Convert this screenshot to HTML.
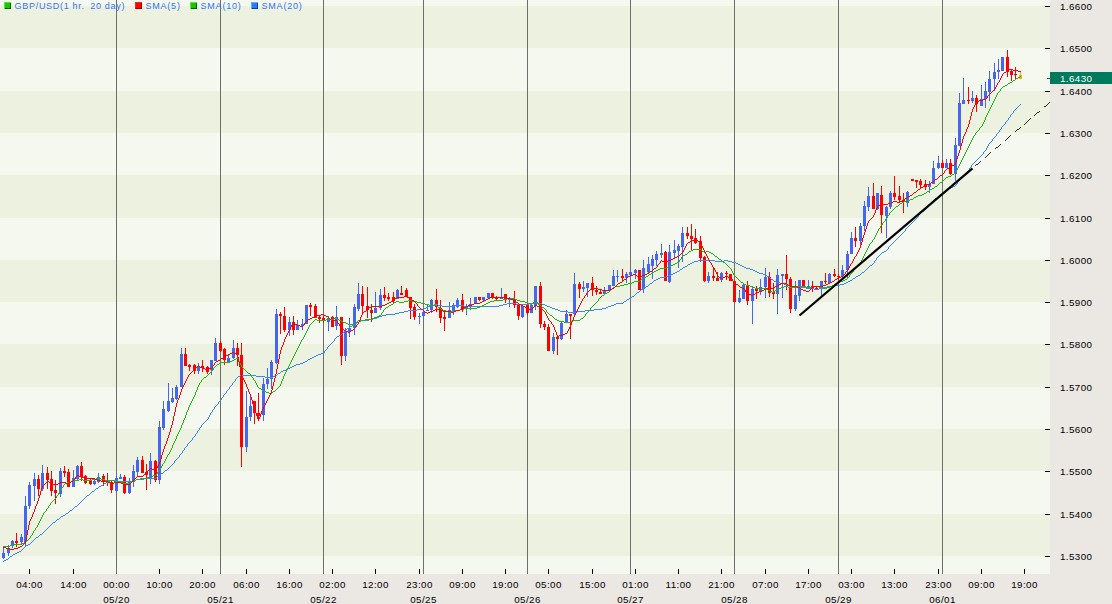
<!DOCTYPE html>
<html><head><meta charset="utf-8"><style>html,body{margin:0;padding:0;background:#ebe8e4;width:1112px;height:604px;overflow:hidden}</style></head>
<body><svg width="1112" height="604" viewBox="0 0 1112 604" style="display:block"><rect x="0" y="0" width="1112" height="604" fill="#ebe8e4"/><g shape-rendering="crispEdges"><rect x="0" y="0" width="1050" height="574" fill="#f5f8ee"/><rect x="0" y="6" width="1050" height="42" fill="#edf2e0"/><rect x="0" y="91" width="1050" height="42" fill="#edf2e0"/><rect x="0" y="175" width="1050" height="43" fill="#edf2e0"/><rect x="0" y="260" width="1050" height="42" fill="#edf2e0"/><rect x="0" y="344" width="1050" height="43" fill="#edf2e0"/><rect x="0" y="429" width="1050" height="42" fill="#edf2e0"/><rect x="0" y="514" width="1050" height="42" fill="#edf2e0"/><rect x="116" y="0" width="1" height="574" fill="#6e6e6e"/><rect x="220" y="0" width="1" height="574" fill="#6e6e6e"/><rect x="323" y="0" width="1" height="574" fill="#6e6e6e"/><rect x="423" y="0" width="1" height="574" fill="#6e6e6e"/><rect x="527" y="0" width="1" height="574" fill="#6e6e6e"/><rect x="630" y="0" width="1" height="574" fill="#6e6e6e"/><rect x="734" y="0" width="1" height="574" fill="#6e6e6e"/><rect x="838" y="0" width="1" height="574" fill="#6e6e6e"/><rect x="942" y="0" width="1" height="574" fill="#6e6e6e"/><rect x="1045" y="6" width="5" height="1" fill="#000"/><rect x="1045" y="48" width="5" height="1" fill="#000"/><rect x="1045" y="91" width="5" height="1" fill="#000"/><rect x="1045" y="133" width="5" height="1" fill="#000"/><rect x="1045" y="175" width="5" height="1" fill="#000"/><rect x="1045" y="218" width="5" height="1" fill="#000"/><rect x="1045" y="260" width="5" height="1" fill="#000"/><rect x="1045" y="302" width="5" height="1" fill="#000"/><rect x="1045" y="344" width="5" height="1" fill="#000"/><rect x="1045" y="387" width="5" height="1" fill="#000"/><rect x="1045" y="429" width="5" height="1" fill="#000"/><rect x="1045" y="471" width="5" height="1" fill="#000"/><rect x="1045" y="514" width="5" height="1" fill="#000"/><rect x="1045" y="556" width="5" height="1" fill="#000"/><rect x="29" y="569" width="1" height="5" fill="#000"/><rect x="73" y="569" width="1" height="5" fill="#000"/><rect x="159" y="569" width="1" height="5" fill="#000"/><rect x="202" y="569" width="1" height="5" fill="#000"/><rect x="246" y="569" width="1" height="5" fill="#000"/><rect x="289" y="569" width="1" height="5" fill="#000"/><rect x="332" y="569" width="1" height="5" fill="#000"/><rect x="375" y="569" width="1" height="5" fill="#000"/><rect x="419" y="569" width="1" height="5" fill="#000"/><rect x="462" y="569" width="1" height="5" fill="#000"/><rect x="505" y="569" width="1" height="5" fill="#000"/><rect x="548" y="569" width="1" height="5" fill="#000"/><rect x="592" y="569" width="1" height="5" fill="#000"/><rect x="635" y="569" width="1" height="5" fill="#000"/><rect x="678" y="569" width="1" height="5" fill="#000"/><rect x="721" y="569" width="1" height="5" fill="#000"/><rect x="765" y="569" width="1" height="5" fill="#000"/><rect x="808" y="569" width="1" height="5" fill="#000"/><rect x="851" y="569" width="1" height="5" fill="#000"/><rect x="894" y="569" width="1" height="5" fill="#000"/><rect x="938" y="569" width="1" height="5" fill="#000"/><rect x="981" y="569" width="1" height="5" fill="#000"/><rect x="1024" y="569" width="1" height="5" fill="#000"/></g><g shape-rendering="crispEdges"><rect x="3" y="547" width="1" height="12" fill="#4466f0"/><rect x="2" y="553" width="3" height="5" fill="#4466f0"/><rect x="8" y="545" width="1" height="11" fill="#4466f0"/><rect x="7" y="548" width="3" height="5" fill="#4466f0"/><rect x="12" y="540" width="1" height="8" fill="#4466f0"/><rect x="11" y="541" width="3" height="4" fill="#4466f0"/><rect x="16" y="533" width="1" height="14" fill="#ff0000"/><rect x="15" y="541" width="3" height="2" fill="#ff0000"/><rect x="21" y="534" width="1" height="10" fill="#4466f0"/><rect x="20" y="537" width="3" height="5" fill="#4466f0"/><rect x="25" y="496" width="1" height="50" fill="#4466f0"/><rect x="24" y="506" width="3" height="36" fill="#4466f0"/><rect x="29" y="482" width="1" height="27" fill="#4466f0"/><rect x="28" y="485" width="3" height="21" fill="#4466f0"/><rect x="34" y="473" width="1" height="28" fill="#4466f0"/><rect x="33" y="479" width="3" height="7" fill="#4466f0"/><rect x="38" y="475" width="1" height="21" fill="#ff0000"/><rect x="37" y="479" width="3" height="10" fill="#ff0000"/><rect x="42" y="465" width="1" height="26" fill="#4466f0"/><rect x="41" y="473" width="3" height="16" fill="#4466f0"/><rect x="47" y="467" width="1" height="22" fill="#ff0000"/><rect x="46" y="473" width="3" height="7" fill="#ff0000"/><rect x="51" y="471" width="1" height="25" fill="#ff0000"/><rect x="50" y="479" width="3" height="12" fill="#ff0000"/><rect x="55" y="480" width="1" height="24" fill="#ff0000"/><rect x="54" y="490" width="3" height="3" fill="#ff0000"/><rect x="60" y="468" width="1" height="29" fill="#4466f0"/><rect x="59" y="471" width="3" height="23" fill="#4466f0"/><rect x="64" y="466" width="1" height="11" fill="#ff0000"/><rect x="63" y="471" width="3" height="2" fill="#ff0000"/><rect x="68" y="469" width="1" height="18" fill="#ff0000"/><rect x="67" y="472" width="3" height="15" fill="#ff0000"/><rect x="73" y="470" width="1" height="17" fill="#4466f0"/><rect x="72" y="478" width="3" height="9" fill="#4466f0"/><rect x="77" y="465" width="1" height="16" fill="#4466f0"/><rect x="76" y="466" width="3" height="13" fill="#4466f0"/><rect x="81" y="462" width="1" height="19" fill="#ff0000"/><rect x="80" y="466" width="3" height="11" fill="#ff0000"/><rect x="85" y="475" width="1" height="9" fill="#ff0000"/><rect x="84" y="476" width="3" height="7" fill="#ff0000"/><rect x="90" y="479" width="1" height="6" fill="#ff0000"/><rect x="89" y="481" width="3" height="3" fill="#ff0000"/><rect x="94" y="478" width="1" height="7" fill="#4466f0"/><rect x="93" y="481" width="3" height="3" fill="#4466f0"/><rect x="98" y="473" width="1" height="10" fill="#4466f0"/><rect x="97" y="477" width="3" height="5" fill="#4466f0"/><rect x="103" y="474" width="1" height="12" fill="#ff0000"/><rect x="102" y="476" width="3" height="6" fill="#ff0000"/><rect x="107" y="473" width="1" height="13" fill="#ff0000"/><rect x="106" y="481" width="3" height="2" fill="#ff0000"/><rect x="111" y="481" width="1" height="12" fill="#ff0000"/><rect x="110" y="482" width="3" height="8" fill="#ff0000"/><rect x="116" y="475" width="1" height="16" fill="#4466f0"/><rect x="115" y="478" width="3" height="13" fill="#4466f0"/><rect x="120" y="474" width="1" height="5" fill="#4466f0"/><rect x="119" y="477" width="3" height="2" fill="#4466f0"/><rect x="124" y="475" width="1" height="19" fill="#ff0000"/><rect x="123" y="477" width="3" height="16" fill="#ff0000"/><rect x="129" y="478" width="1" height="16" fill="#4466f0"/><rect x="128" y="481" width="3" height="12" fill="#4466f0"/><rect x="133" y="465" width="1" height="22" fill="#4466f0"/><rect x="132" y="471" width="3" height="11" fill="#4466f0"/><rect x="137" y="457" width="1" height="19" fill="#4466f0"/><rect x="136" y="460" width="3" height="12" fill="#4466f0"/><rect x="142" y="456" width="1" height="17" fill="#ff0000"/><rect x="141" y="460" width="3" height="13" fill="#ff0000"/><rect x="146" y="464" width="1" height="26" fill="#ff0000"/><rect x="145" y="472" width="3" height="3" fill="#ff0000"/><rect x="150" y="453" width="1" height="31" fill="#4466f0"/><rect x="149" y="461" width="3" height="17" fill="#4466f0"/><rect x="155" y="460" width="1" height="22" fill="#ff0000"/><rect x="154" y="461" width="3" height="19" fill="#ff0000"/><rect x="159" y="421" width="1" height="63" fill="#4466f0"/><rect x="158" y="427" width="3" height="53" fill="#4466f0"/><rect x="163" y="401" width="1" height="29" fill="#4466f0"/><rect x="162" y="409" width="3" height="19" fill="#4466f0"/><rect x="168" y="383" width="1" height="29" fill="#4466f0"/><rect x="167" y="401" width="3" height="10" fill="#4466f0"/><rect x="172" y="388" width="1" height="15" fill="#4466f0"/><rect x="171" y="398" width="3" height="4" fill="#4466f0"/><rect x="176" y="385" width="1" height="15" fill="#4466f0"/><rect x="175" y="387" width="3" height="12" fill="#4466f0"/><rect x="181" y="348" width="1" height="39" fill="#4466f0"/><rect x="180" y="354" width="3" height="33" fill="#4466f0"/><rect x="185" y="348" width="1" height="18" fill="#ff0000"/><rect x="184" y="354" width="3" height="12" fill="#ff0000"/><rect x="189" y="364" width="1" height="7" fill="#ff0000"/><rect x="188" y="365" width="3" height="2" fill="#ff0000"/><rect x="194" y="364" width="1" height="10" fill="#ff0000"/><rect x="193" y="365" width="3" height="6" fill="#ff0000"/><rect x="198" y="363" width="1" height="11" fill="#4466f0"/><rect x="197" y="367" width="3" height="4" fill="#4466f0"/><rect x="202" y="360" width="1" height="12" fill="#ff0000"/><rect x="201" y="366" width="3" height="2" fill="#ff0000"/><rect x="207" y="366" width="1" height="8" fill="#ff0000"/><rect x="206" y="367" width="3" height="5" fill="#ff0000"/><rect x="211" y="360" width="1" height="15" fill="#4466f0"/><rect x="210" y="360" width="3" height="10" fill="#4466f0"/><rect x="215" y="338" width="1" height="23" fill="#4466f0"/><rect x="214" y="343" width="3" height="18" fill="#4466f0"/><rect x="220" y="341" width="1" height="11" fill="#ff0000"/><rect x="219" y="343" width="3" height="8" fill="#ff0000"/><rect x="224" y="348" width="1" height="17" fill="#ff0000"/><rect x="223" y="349" width="3" height="11" fill="#ff0000"/><rect x="228" y="355" width="1" height="8" fill="#4466f0"/><rect x="227" y="358" width="3" height="4" fill="#4466f0"/><rect x="233" y="340" width="1" height="19" fill="#4466f0"/><rect x="232" y="348" width="3" height="10" fill="#4466f0"/><rect x="237" y="343" width="1" height="23" fill="#ff0000"/><rect x="236" y="348" width="3" height="7" fill="#ff0000"/><rect x="241" y="343" width="1" height="124" fill="#ff0000"/><rect x="240" y="355" width="3" height="92" fill="#ff0000"/><rect x="246" y="391" width="1" height="61" fill="#4466f0"/><rect x="245" y="417" width="3" height="30" fill="#4466f0"/><rect x="250" y="396" width="1" height="25" fill="#4466f0"/><rect x="249" y="406" width="3" height="11" fill="#4466f0"/><rect x="254" y="401" width="1" height="23" fill="#ff0000"/><rect x="253" y="401" width="3" height="12" fill="#ff0000"/><rect x="258" y="393" width="1" height="26" fill="#ff0000"/><rect x="257" y="413" width="3" height="3" fill="#ff0000"/><rect x="263" y="378" width="1" height="43" fill="#4466f0"/><rect x="262" y="384" width="3" height="31" fill="#4466f0"/><rect x="267" y="368" width="1" height="21" fill="#4466f0"/><rect x="266" y="379" width="3" height="5" fill="#4466f0"/><rect x="271" y="360" width="1" height="29" fill="#4466f0"/><rect x="270" y="362" width="3" height="17" fill="#4466f0"/><rect x="276" y="309" width="1" height="55" fill="#4466f0"/><rect x="275" y="314" width="3" height="49" fill="#4466f0"/><rect x="280" y="312" width="1" height="22" fill="#ff0000"/><rect x="279" y="314" width="3" height="2" fill="#ff0000"/><rect x="284" y="307" width="1" height="25" fill="#ff0000"/><rect x="283" y="316" width="3" height="14" fill="#ff0000"/><rect x="289" y="317" width="1" height="19" fill="#4466f0"/><rect x="288" y="322" width="3" height="8" fill="#4466f0"/><rect x="293" y="316" width="1" height="19" fill="#ff0000"/><rect x="292" y="322" width="3" height="8" fill="#ff0000"/><rect x="297" y="320" width="1" height="10" fill="#4466f0"/><rect x="296" y="325" width="3" height="5" fill="#4466f0"/><rect x="302" y="319" width="1" height="11" fill="#4466f0"/><rect x="301" y="324" width="3" height="2" fill="#4466f0"/><rect x="306" y="305" width="1" height="19" fill="#4466f0"/><rect x="305" y="305" width="3" height="19" fill="#4466f0"/><rect x="310" y="303" width="1" height="13" fill="#ff0000"/><rect x="309" y="305" width="3" height="2" fill="#ff0000"/><rect x="315" y="304" width="1" height="14" fill="#ff0000"/><rect x="314" y="306" width="3" height="12" fill="#ff0000"/><rect x="319" y="316" width="1" height="7" fill="#ff0000"/><rect x="318" y="317" width="3" height="2" fill="#ff0000"/><rect x="323" y="316" width="1" height="7" fill="#ff0000"/><rect x="322" y="318" width="3" height="3" fill="#ff0000"/><rect x="328" y="316" width="1" height="15" fill="#4466f0"/><rect x="327" y="318" width="3" height="4" fill="#4466f0"/><rect x="332" y="316" width="1" height="11" fill="#ff0000"/><rect x="331" y="317" width="3" height="10" fill="#ff0000"/><rect x="336" y="306" width="1" height="24" fill="#4466f0"/><rect x="335" y="317" width="3" height="9" fill="#4466f0"/><rect x="341" y="317" width="1" height="48" fill="#ff0000"/><rect x="340" y="317" width="3" height="39" fill="#ff0000"/><rect x="345" y="328" width="1" height="33" fill="#4466f0"/><rect x="344" y="331" width="3" height="25" fill="#4466f0"/><rect x="349" y="318" width="1" height="19" fill="#4466f0"/><rect x="348" y="328" width="3" height="4" fill="#4466f0"/><rect x="354" y="304" width="1" height="31" fill="#4466f0"/><rect x="353" y="307" width="3" height="21" fill="#4466f0"/><rect x="358" y="283" width="1" height="28" fill="#4466f0"/><rect x="357" y="294" width="3" height="15" fill="#4466f0"/><rect x="362" y="286" width="1" height="27" fill="#ff0000"/><rect x="361" y="294" width="3" height="12" fill="#ff0000"/><rect x="367" y="287" width="1" height="31" fill="#ff0000"/><rect x="366" y="306" width="3" height="4" fill="#ff0000"/><rect x="371" y="304" width="1" height="18" fill="#ff0000"/><rect x="370" y="310" width="3" height="3" fill="#ff0000"/><rect x="375" y="292" width="1" height="21" fill="#4466f0"/><rect x="374" y="308" width="3" height="5" fill="#4466f0"/><rect x="380" y="289" width="1" height="21" fill="#4466f0"/><rect x="379" y="295" width="3" height="13" fill="#4466f0"/><rect x="384" y="287" width="1" height="14" fill="#ff0000"/><rect x="383" y="295" width="3" height="3" fill="#ff0000"/><rect x="388" y="293" width="1" height="8" fill="#ff0000"/><rect x="387" y="297" width="3" height="2" fill="#ff0000"/><rect x="393" y="292" width="1" height="12" fill="#ff0000"/><rect x="392" y="297" width="3" height="4" fill="#ff0000"/><rect x="397" y="289" width="1" height="10" fill="#4466f0"/><rect x="396" y="290" width="3" height="9" fill="#4466f0"/><rect x="401" y="286" width="1" height="9" fill="#ff0000"/><rect x="400" y="293" width="3" height="2" fill="#ff0000"/><rect x="406" y="288" width="1" height="9" fill="#ff0000"/><rect x="405" y="290" width="3" height="7" fill="#ff0000"/><rect x="410" y="297" width="1" height="22" fill="#ff0000"/><rect x="409" y="297" width="3" height="11" fill="#ff0000"/><rect x="414" y="304" width="1" height="16" fill="#ff0000"/><rect x="413" y="307" width="3" height="10" fill="#ff0000"/><rect x="419" y="313" width="1" height="11" fill="#4466f0"/><rect x="418" y="316" width="3" height="1" fill="#4466f0"/><rect x="423" y="311" width="1" height="8" fill="#4466f0"/><rect x="422" y="312" width="3" height="4" fill="#4466f0"/><rect x="427" y="305" width="1" height="6" fill="#4466f0"/><rect x="426" y="310" width="3" height="1" fill="#4466f0"/><rect x="431" y="299" width="1" height="14" fill="#4466f0"/><rect x="430" y="300" width="3" height="10" fill="#4466f0"/><rect x="436" y="289" width="1" height="23" fill="#ff0000"/><rect x="435" y="300" width="3" height="7" fill="#ff0000"/><rect x="440" y="300" width="1" height="23" fill="#ff0000"/><rect x="439" y="308" width="3" height="10" fill="#ff0000"/><rect x="444" y="312" width="1" height="19" fill="#ff0000"/><rect x="443" y="317" width="3" height="2" fill="#ff0000"/><rect x="449" y="302" width="1" height="16" fill="#4466f0"/><rect x="448" y="310" width="3" height="8" fill="#4466f0"/><rect x="453" y="303" width="1" height="12" fill="#4466f0"/><rect x="452" y="305" width="3" height="6" fill="#4466f0"/><rect x="457" y="298" width="1" height="10" fill="#4466f0"/><rect x="456" y="300" width="3" height="7" fill="#4466f0"/><rect x="462" y="294" width="1" height="18" fill="#ff0000"/><rect x="461" y="300" width="3" height="9" fill="#ff0000"/><rect x="466" y="304" width="1" height="11" fill="#4466f0"/><rect x="465" y="307" width="3" height="1" fill="#4466f0"/><rect x="470" y="298" width="1" height="12" fill="#4466f0"/><rect x="469" y="304" width="3" height="2" fill="#4466f0"/><rect x="475" y="297" width="1" height="7" fill="#4466f0"/><rect x="474" y="297" width="3" height="6" fill="#4466f0"/><rect x="479" y="297" width="1" height="4" fill="#ff0000"/><rect x="478" y="297" width="3" height="3" fill="#ff0000"/><rect x="483" y="297" width="1" height="4" fill="#4466f0"/><rect x="482" y="297" width="3" height="3" fill="#4466f0"/><rect x="488" y="293" width="1" height="5" fill="#4466f0"/><rect x="487" y="293" width="3" height="5" fill="#4466f0"/><rect x="492" y="293" width="1" height="6" fill="#ff0000"/><rect x="491" y="293" width="3" height="5" fill="#ff0000"/><rect x="496" y="296" width="1" height="5" fill="#ff0000"/><rect x="495" y="298" width="3" height="1" fill="#ff0000"/><rect x="501" y="288" width="1" height="11" fill="#4466f0"/><rect x="500" y="297" width="3" height="2" fill="#4466f0"/><rect x="505" y="294" width="1" height="9" fill="#ff0000"/><rect x="504" y="294" width="3" height="5" fill="#ff0000"/><rect x="509" y="297" width="1" height="10" fill="#4466f0"/><rect x="508" y="299" width="3" height="1" fill="#4466f0"/><rect x="514" y="291" width="1" height="17" fill="#ff0000"/><rect x="513" y="299" width="3" height="6" fill="#ff0000"/><rect x="518" y="305" width="1" height="15" fill="#ff0000"/><rect x="517" y="305" width="3" height="11" fill="#ff0000"/><rect x="522" y="306" width="1" height="12" fill="#4466f0"/><rect x="521" y="306" width="3" height="11" fill="#4466f0"/><rect x="527" y="305" width="1" height="10" fill="#ff0000"/><rect x="526" y="305" width="3" height="8" fill="#ff0000"/><rect x="531" y="304" width="1" height="9" fill="#4466f0"/><rect x="530" y="305" width="3" height="8" fill="#4466f0"/><rect x="535" y="286" width="1" height="24" fill="#4466f0"/><rect x="534" y="286" width="3" height="20" fill="#4466f0"/><rect x="540" y="282" width="1" height="46" fill="#ff0000"/><rect x="539" y="286" width="3" height="38" fill="#ff0000"/><rect x="544" y="321" width="1" height="9" fill="#ff0000"/><rect x="543" y="324" width="3" height="3" fill="#ff0000"/><rect x="548" y="324" width="1" height="27" fill="#ff0000"/><rect x="547" y="327" width="3" height="24" fill="#ff0000"/><rect x="553" y="333" width="1" height="21" fill="#4466f0"/><rect x="552" y="337" width="3" height="14" fill="#4466f0"/><rect x="557" y="337" width="1" height="18" fill="#ff0000"/><rect x="556" y="337" width="3" height="2" fill="#ff0000"/><rect x="561" y="322" width="1" height="18" fill="#4466f0"/><rect x="560" y="323" width="3" height="16" fill="#4466f0"/><rect x="566" y="310" width="1" height="13" fill="#4466f0"/><rect x="565" y="314" width="3" height="9" fill="#4466f0"/><rect x="570" y="314" width="1" height="25" fill="#ff0000"/><rect x="569" y="314" width="3" height="2" fill="#ff0000"/><rect x="574" y="273" width="1" height="43" fill="#4466f0"/><rect x="573" y="284" width="3" height="30" fill="#4466f0"/><rect x="579" y="282" width="1" height="16" fill="#ff0000"/><rect x="578" y="284" width="3" height="5" fill="#ff0000"/><rect x="583" y="281" width="1" height="11" fill="#4466f0"/><rect x="582" y="287" width="3" height="2" fill="#4466f0"/><rect x="587" y="283" width="1" height="14" fill="#4466f0"/><rect x="586" y="283" width="3" height="5" fill="#4466f0"/><rect x="592" y="277" width="1" height="19" fill="#ff0000"/><rect x="591" y="283" width="3" height="7" fill="#ff0000"/><rect x="596" y="286" width="1" height="9" fill="#ff0000"/><rect x="595" y="290" width="3" height="2" fill="#ff0000"/><rect x="600" y="290" width="1" height="4" fill="#ff0000"/><rect x="599" y="292" width="3" height="2" fill="#ff0000"/><rect x="604" y="287" width="1" height="7" fill="#4466f0"/><rect x="603" y="291" width="3" height="3" fill="#4466f0"/><rect x="609" y="285" width="1" height="6" fill="#4466f0"/><rect x="608" y="285" width="3" height="5" fill="#4466f0"/><rect x="613" y="270" width="1" height="16" fill="#4466f0"/><rect x="612" y="276" width="3" height="10" fill="#4466f0"/><rect x="617" y="270" width="1" height="12" fill="#4466f0"/><rect x="616" y="276" width="3" height="1" fill="#4466f0"/><rect x="622" y="269" width="1" height="12" fill="#ff0000"/><rect x="621" y="276" width="3" height="2" fill="#ff0000"/><rect x="626" y="272" width="1" height="11" fill="#4466f0"/><rect x="625" y="274" width="3" height="4" fill="#4466f0"/><rect x="630" y="269" width="1" height="9" fill="#4466f0"/><rect x="629" y="272" width="3" height="3" fill="#4466f0"/><rect x="635" y="269" width="1" height="10" fill="#4466f0"/><rect x="634" y="270" width="3" height="3" fill="#4466f0"/><rect x="639" y="270" width="1" height="20" fill="#ff0000"/><rect x="638" y="270" width="3" height="20" fill="#ff0000"/><rect x="643" y="260" width="1" height="33" fill="#4466f0"/><rect x="642" y="268" width="3" height="21" fill="#4466f0"/><rect x="648" y="257" width="1" height="16" fill="#4466f0"/><rect x="647" y="264" width="3" height="8" fill="#4466f0"/><rect x="652" y="255" width="1" height="24" fill="#4466f0"/><rect x="651" y="259" width="3" height="7" fill="#4466f0"/><rect x="656" y="251" width="1" height="15" fill="#4466f0"/><rect x="655" y="254" width="3" height="6" fill="#4466f0"/><rect x="661" y="244" width="1" height="14" fill="#4466f0"/><rect x="660" y="253" width="3" height="2" fill="#4466f0"/><rect x="665" y="251" width="1" height="30" fill="#ff0000"/><rect x="664" y="252" width="3" height="29" fill="#ff0000"/><rect x="669" y="245" width="1" height="38" fill="#4466f0"/><rect x="668" y="252" width="3" height="30" fill="#4466f0"/><rect x="674" y="240" width="1" height="18" fill="#4466f0"/><rect x="673" y="250" width="3" height="3" fill="#4466f0"/><rect x="678" y="244" width="1" height="24" fill="#4466f0"/><rect x="677" y="246" width="3" height="5" fill="#4466f0"/><rect x="682" y="227" width="1" height="35" fill="#4466f0"/><rect x="681" y="233" width="3" height="14" fill="#4466f0"/><rect x="687" y="227" width="1" height="12" fill="#ff0000"/><rect x="686" y="233" width="3" height="3" fill="#ff0000"/><rect x="691" y="224" width="1" height="26" fill="#ff0000"/><rect x="690" y="236" width="3" height="3" fill="#ff0000"/><rect x="695" y="229" width="1" height="15" fill="#ff0000"/><rect x="694" y="238" width="3" height="5" fill="#ff0000"/><rect x="700" y="236" width="1" height="26" fill="#ff0000"/><rect x="699" y="241" width="3" height="17" fill="#ff0000"/><rect x="704" y="256" width="1" height="26" fill="#ff0000"/><rect x="703" y="257" width="3" height="24" fill="#ff0000"/><rect x="708" y="272" width="1" height="11" fill="#4466f0"/><rect x="707" y="276" width="3" height="5" fill="#4466f0"/><rect x="713" y="268" width="1" height="13" fill="#ff0000"/><rect x="712" y="276" width="3" height="2" fill="#ff0000"/><rect x="717" y="272" width="1" height="9" fill="#ff0000"/><rect x="716" y="278" width="3" height="3" fill="#ff0000"/><rect x="721" y="272" width="1" height="10" fill="#4466f0"/><rect x="720" y="273" width="3" height="7" fill="#4466f0"/><rect x="726" y="271" width="1" height="9" fill="#ff0000"/><rect x="725" y="273" width="3" height="1" fill="#ff0000"/><rect x="730" y="274" width="1" height="7" fill="#ff0000"/><rect x="729" y="274" width="3" height="7" fill="#ff0000"/><rect x="734" y="281" width="1" height="21" fill="#ff0000"/><rect x="733" y="281" width="3" height="21" fill="#ff0000"/><rect x="739" y="290" width="1" height="13" fill="#4466f0"/><rect x="738" y="298" width="3" height="4" fill="#4466f0"/><rect x="743" y="284" width="1" height="15" fill="#4466f0"/><rect x="742" y="285" width="3" height="14" fill="#4466f0"/><rect x="747" y="281" width="1" height="24" fill="#ff0000"/><rect x="746" y="286" width="3" height="15" fill="#ff0000"/><rect x="752" y="287" width="1" height="37" fill="#4466f0"/><rect x="751" y="289" width="3" height="12" fill="#4466f0"/><rect x="756" y="286" width="1" height="13" fill="#ff0000"/><rect x="755" y="288" width="3" height="3" fill="#ff0000"/><rect x="760" y="279" width="1" height="16" fill="#4466f0"/><rect x="759" y="287" width="3" height="4" fill="#4466f0"/><rect x="765" y="268" width="1" height="30" fill="#4466f0"/><rect x="764" y="277" width="3" height="10" fill="#4466f0"/><rect x="769" y="272" width="1" height="25" fill="#ff0000"/><rect x="768" y="277" width="3" height="16" fill="#ff0000"/><rect x="773" y="283" width="1" height="16" fill="#ff0000"/><rect x="772" y="292" width="3" height="2" fill="#ff0000"/><rect x="777" y="269" width="1" height="45" fill="#4466f0"/><rect x="776" y="275" width="3" height="19" fill="#4466f0"/><rect x="782" y="274" width="1" height="24" fill="#4466f0"/><rect x="781" y="274" width="3" height="2" fill="#4466f0"/><rect x="786" y="255" width="1" height="35" fill="#ff0000"/><rect x="785" y="274" width="3" height="5" fill="#ff0000"/><rect x="790" y="277" width="1" height="36" fill="#ff0000"/><rect x="789" y="279" width="3" height="30" fill="#ff0000"/><rect x="795" y="281" width="1" height="30" fill="#4466f0"/><rect x="794" y="295" width="3" height="14" fill="#4466f0"/><rect x="799" y="280" width="1" height="21" fill="#4466f0"/><rect x="798" y="280" width="3" height="16" fill="#4466f0"/><rect x="803" y="280" width="1" height="6" fill="#ff0000"/><rect x="802" y="280" width="3" height="6" fill="#ff0000"/><rect x="808" y="280" width="1" height="9" fill="#4466f0"/><rect x="807" y="286" width="3" height="3" fill="#4466f0"/><rect x="812" y="281" width="1" height="11" fill="#ff0000"/><rect x="811" y="286" width="3" height="2" fill="#ff0000"/><rect x="816" y="287" width="1" height="3" fill="#ff0000"/><rect x="815" y="288" width="3" height="1" fill="#ff0000"/><rect x="821" y="281" width="1" height="15" fill="#4466f0"/><rect x="820" y="281" width="3" height="8" fill="#4466f0"/><rect x="825" y="273" width="1" height="11" fill="#ff0000"/><rect x="824" y="281" width="3" height="1" fill="#ff0000"/><rect x="829" y="273" width="1" height="10" fill="#4466f0"/><rect x="828" y="274" width="3" height="9" fill="#4466f0"/><rect x="834" y="269" width="1" height="8" fill="#ff0000"/><rect x="833" y="274" width="3" height="2" fill="#ff0000"/><rect x="838" y="274" width="1" height="6" fill="#ff0000"/><rect x="837" y="276" width="3" height="1" fill="#ff0000"/><rect x="842" y="265" width="1" height="14" fill="#4466f0"/><rect x="841" y="270" width="3" height="6" fill="#4466f0"/><rect x="847" y="251" width="1" height="27" fill="#4466f0"/><rect x="846" y="254" width="3" height="16" fill="#4466f0"/><rect x="851" y="232" width="1" height="22" fill="#4466f0"/><rect x="850" y="238" width="3" height="16" fill="#4466f0"/><rect x="855" y="227" width="1" height="20" fill="#ff0000"/><rect x="854" y="238" width="3" height="3" fill="#ff0000"/><rect x="860" y="223" width="1" height="22" fill="#4466f0"/><rect x="859" y="226" width="3" height="15" fill="#4466f0"/><rect x="864" y="201" width="1" height="30" fill="#4466f0"/><rect x="863" y="206" width="3" height="20" fill="#4466f0"/><rect x="868" y="187" width="1" height="24" fill="#4466f0"/><rect x="867" y="196" width="3" height="11" fill="#4466f0"/><rect x="873" y="183" width="1" height="26" fill="#ff0000"/><rect x="872" y="196" width="3" height="13" fill="#ff0000"/><rect x="877" y="193" width="1" height="17" fill="#4466f0"/><rect x="876" y="193" width="3" height="16" fill="#4466f0"/><rect x="881" y="186" width="1" height="47" fill="#ff0000"/><rect x="880" y="195" width="3" height="20" fill="#ff0000"/><rect x="886" y="206" width="1" height="32" fill="#4466f0"/><rect x="885" y="207" width="3" height="9" fill="#4466f0"/><rect x="890" y="191" width="1" height="18" fill="#4466f0"/><rect x="889" y="193" width="3" height="14" fill="#4466f0"/><rect x="894" y="176" width="1" height="24" fill="#ff0000"/><rect x="893" y="193" width="3" height="4" fill="#ff0000"/><rect x="899" y="186" width="1" height="16" fill="#ff0000"/><rect x="898" y="196" width="3" height="4" fill="#ff0000"/><rect x="903" y="193" width="1" height="20" fill="#ff0000"/><rect x="902" y="200" width="3" height="2" fill="#ff0000"/><rect x="907" y="191" width="1" height="16" fill="#4466f0"/><rect x="906" y="192" width="3" height="11" fill="#4466f0"/><rect x="912" y="179" width="1" height="2" fill="#ff0000"/><rect x="911" y="179" width="3" height="2" fill="#ff0000"/><rect x="916" y="180" width="1" height="8" fill="#ff0000"/><rect x="915" y="180" width="3" height="2" fill="#ff0000"/><rect x="920" y="179" width="1" height="10" fill="#ff0000"/><rect x="919" y="181" width="3" height="4" fill="#ff0000"/><rect x="925" y="180" width="1" height="10" fill="#ff0000"/><rect x="924" y="184" width="3" height="3" fill="#ff0000"/><rect x="929" y="181" width="1" height="12" fill="#4466f0"/><rect x="928" y="184" width="3" height="3" fill="#4466f0"/><rect x="933" y="161" width="1" height="23" fill="#4466f0"/><rect x="932" y="168" width="3" height="16" fill="#4466f0"/><rect x="938" y="156" width="1" height="13" fill="#4466f0"/><rect x="937" y="163" width="3" height="5" fill="#4466f0"/><rect x="942" y="160" width="1" height="8" fill="#ff0000"/><rect x="941" y="163" width="3" height="5" fill="#ff0000"/><rect x="946" y="159" width="1" height="9" fill="#4466f0"/><rect x="945" y="163" width="3" height="5" fill="#4466f0"/><rect x="950" y="159" width="1" height="16" fill="#ff0000"/><rect x="949" y="163" width="3" height="11" fill="#ff0000"/><rect x="955" y="138" width="1" height="43" fill="#4466f0"/><rect x="954" y="145" width="3" height="29" fill="#4466f0"/><rect x="959" y="93" width="1" height="53" fill="#4466f0"/><rect x="958" y="103" width="3" height="43" fill="#4466f0"/><rect x="963" y="78" width="1" height="26" fill="#4466f0"/><rect x="962" y="100" width="3" height="4" fill="#4466f0"/><rect x="968" y="87" width="1" height="17" fill="#ff0000"/><rect x="967" y="100" width="3" height="1" fill="#ff0000"/><rect x="972" y="91" width="1" height="12" fill="#4466f0"/><rect x="971" y="98" width="3" height="3" fill="#4466f0"/><rect x="976" y="95" width="1" height="17" fill="#ff0000"/><rect x="975" y="98" width="3" height="6" fill="#ff0000"/><rect x="981" y="85" width="1" height="21" fill="#4466f0"/><rect x="980" y="99" width="3" height="7" fill="#4466f0"/><rect x="985" y="82" width="1" height="26" fill="#4466f0"/><rect x="984" y="91" width="3" height="8" fill="#4466f0"/><rect x="989" y="71" width="1" height="30" fill="#4466f0"/><rect x="988" y="79" width="3" height="13" fill="#4466f0"/><rect x="994" y="63" width="1" height="28" fill="#4466f0"/><rect x="993" y="72" width="3" height="7" fill="#4466f0"/><rect x="998" y="59" width="1" height="20" fill="#4466f0"/><rect x="997" y="70" width="3" height="2" fill="#4466f0"/><rect x="1002" y="57" width="1" height="14" fill="#4466f0"/><rect x="1001" y="57" width="3" height="14" fill="#4466f0"/><rect x="1007" y="50" width="1" height="27" fill="#ff0000"/><rect x="1006" y="57" width="3" height="15" fill="#ff0000"/><rect x="1011" y="70" width="1" height="11" fill="#ff0000"/><rect x="1010" y="71" width="3" height="4" fill="#ff0000"/><rect x="1015" y="67" width="1" height="12" fill="#ff0000"/><rect x="1014" y="74" width="3" height="1" fill="#ff0000"/><rect x="1020" y="72" width="1" height="7" fill="#f5a623"/><rect x="1019" y="75" width="3" height="4" fill="#f5a623"/></g><path fill="#3a86ff" shape-rendering="crispEdges" d="M673 273h2v1h-2zM759 273h4v1h-4zM861 273h1v1h-1zM975 161h1v1h-1zM909 225h1v1h-1zM68 512h1v1h-1zM428 306h2v1h-2zM442 306h13v1h-13zM464 306h35v1h-35zM547 306h3v1h-3zM608 306h3v1h-3zM634 295h1v1h-1zM347 328h2v1h-2zM240 375h16v1h-16zM275 375h2v1h-2zM49 526h1v1h-1zM886 250h1v1h-1zM668 275h3v1h-3zM766 275h1v1h-1zM858 275h2v1h-2zM956 184h1v1h-1zM434 304h4v1h-4zM503 304h4v1h-4zM516 304h13v1h-13zM542 304h3v1h-3zM614 304h2v1h-2zM408 310h9v1h-9zM558 310h2v1h-2zM585 310h9v1h-9zM328 346h1v1h-1zM933 200h1v1h-1zM671 274h2v1h-2zM763 274h3v1h-3zM860 274h1v1h-1zM988 145h1v1h-1zM646 286h2v1h-2zM789 286h4v1h-4zM827 286h5v1h-5zM238 376h2v1h-2zM256 376h9v1h-9zM273 376h2v1h-2zM84 498h1v1h-1zM140 478h16v1h-16zM386 314h9v1h-9zM677 271h2v1h-2zM755 271h2v1h-2zM864 271h1v1h-1zM108 481h2v1h-2zM114 481h20v1h-20zM649 284h1v1h-1zM784 284h3v1h-3zM840 284h4v1h-4zM237 377h1v1h-1zM265 377h8v1h-8zM687 265h1v1h-1zM740 265h2v1h-2zM870 265h2v1h-2zM99 486h2v1h-2zM312 357h2v1h-2zM894 241h1v1h-1zM25 546h1v1h-1zM87 495h2v1h-2zM228 389h1v1h-1zM110 480h4v1h-4zM134 480h2v1h-2zM692 262h2v1h-2zM732 262h4v1h-4zM874 262h1v1h-1zM22 549h1v1h-1zM644 287h2v1h-2zM793 287h13v1h-13zM823 287h4v1h-4zM964 174h1v1h-1zM13 554h2v1h-2zM164 471h1v1h-1zM679 270h1v1h-1zM753 270h2v1h-2zM865 270h1v1h-1zM921 212h1v1h-1zM318 354h3v1h-3zM996 135h1v1h-1zM999 131h1v1h-1zM283 370h3v1h-3zM680 269h2v1h-2zM750 269h3v1h-3zM866 269h1v1h-1zM404 311h4v1h-4zM560 311h8v1h-8zM577 311h8v1h-8zM666 276h2v1h-2zM767 276h2v1h-2zM856 276h2v1h-2zM648 285h1v1h-1zM787 285h2v1h-2zM832 285h8v1h-8zM168 468h1v1h-1zM626 300h1v1h-1zM959 180h1v1h-1zM184 449h1v1h-1zM72 509h1v1h-1zM373 318h4v1h-4zM916 218h1v1h-1zM698 260h17v1h-17zM724 260h4v1h-4zM875 260h1v1h-1zM533 302h5v1h-5zM623 302h1v1h-1zM947 189h2v1h-2zM1006 121h1v1h-1zM641 289h2v1h-2zM814 289h5v1h-5zM324 352h1v1h-1zM940 194h2v1h-2zM991 141h1v1h-1zM882 252h2v1h-2zM75 506h2v1h-2zM660 277h6v1h-6zM769 277h1v1h-1zM855 277h1v1h-1zM399 312h5v1h-5zM568 312h9v1h-9zM972 164h1v1h-1zM944 191h2v1h-2zM1019 105h1v1h-1zM176 459h1v1h-1zM179 455h1v1h-1zM358 320h11v1h-11zM231 385h1v1h-1zM507 303h9v1h-9zM529 303h4v1h-4zM538 303h4v1h-4zM616 303h7v1h-7zM300 363h3v1h-3zM40 534h2v1h-2zM901 234h1v1h-1zM192 439h1v1h-1zM308 359h2v1h-2zM643 288h1v1h-1zM806 288h8v1h-8zM819 288h4v1h-4zM6 559h2v1h-2zM332 342h1v1h-1zM204 422h1v1h-1zM44 531h1v1h-1zM33 540h1v1h-1zM216 405h1v1h-1zM925 209h1v1h-1zM683 267h2v1h-2zM744 267h2v1h-2zM868 267h1v1h-1zM928 205h1v1h-1zM10 556h2v1h-2zM675 272h2v1h-2zM757 272h2v1h-2zM862 272h2v1h-2zM314 356h2v1h-2zM187 445h1v1h-1zM36 537h2v1h-2zM694 261h4v1h-4zM715 261h9v1h-9zM728 261h4v1h-4zM874 261h1v1h-1zM658 278h2v1h-2zM770 278h1v1h-1zM853 278h2v1h-2zM369 319h4v1h-4zM327 348h1v1h-1zM199 428h1v1h-1zM650 283h2v1h-2zM780 283h4v1h-4zM844 283h2v1h-2zM430 305h4v1h-4zM438 305h4v1h-4zM455 305h9v1h-9zM499 305h4v1h-4zM545 305h2v1h-2zM611 305h3v1h-3zM889 246h1v1h-1zM982 154h1v1h-1zM277 374h1v1h-1zM395 313h4v1h-4zM994 137h1v1h-1zM627 299h2v1h-2zM979 157h1v1h-1zM184 448h1v1h-1zM913 221h1v1h-1zM281 371h2v1h-2zM377 317h2v1h-2zM53 522h2v1h-2zM417 309h7v1h-7zM555 309h3v1h-3zM594 309h8v1h-8zM195 435h1v1h-1zM632 296h2v1h-2zM931 202h1v1h-1zM335 338h1v1h-1zM210 414h1v1h-1zM234 381h1v1h-1zM219 401h1v1h-1zM222 397h1v1h-1zM339 335h2v1h-2zM424 308h2v1h-2zM552 308h3v1h-3zM602 308h4v1h-4zM1014 110h1v1h-1zM310 358h2v1h-2zM688 264h2v1h-2zM738 264h2v1h-2zM872 264h1v1h-1zM690 263h2v1h-2zM736 263h2v1h-2zM873 263h1v1h-1zM919 214h1v1h-1zM997 133h1v1h-1zM896 239h1v1h-1zM90 493h1v1h-1zM187 444h1v1h-1zM307 360h1v1h-1zM15 553h2v1h-2zM922 211h2v1h-2zM654 280h2v1h-2zM773 280h1v1h-1zM850 280h2v1h-2zM327 347h1v1h-1zM101 485h2v1h-2zM966 172h1v1h-1zM94 490h1v1h-1zM624 301h2v1h-2zM83 499h1v1h-1zM136 479h4v1h-4zM106 482h2v1h-2zM636 293h1v1h-1zM880 254h1v1h-1zM354 324h1v1h-1zM346 329h1v1h-1zM1005 123h1v1h-1zM640 290h1v1h-1zM884 251h2v1h-2zM195 434h1v1h-1zM685 266h2v1h-2zM742 266h2v1h-2zM869 266h1v1h-1zM198 430h1v1h-1zM70 510h2v1h-2zM426 307h2v1h-2zM550 307h2v1h-2zM606 307h2v1h-2zM55 521h1v1h-1zM350 326h2v1h-2zM911 223h1v1h-1zM210 413h1v1h-1zM296 364h4v1h-4zM888 248h1v1h-1zM974 162h1v1h-1zM908 226h1v1h-1zM382 315h4v1h-4zM330 344h1v1h-1zM935 198h2v1h-2zM48 527h1v1h-1zM1002 126h1v1h-1zM652 282h1v1h-1zM776 282h4v1h-4zM846 282h2v1h-2zM903 232h1v1h-1zM303 362h2v1h-2zM12 555h1v1h-1zM206 420h1v1h-1zM682 268h1v1h-1zM746 268h4v1h-4zM867 268h1v1h-1zM4 560h2v1h-2zM175 460h1v1h-1zM35 538h1v1h-1zM98 487h1v1h-1zM218 403h1v1h-1zM24 547h1v1h-1zM656 279h2v1h-2zM771 279h2v1h-2zM852 279h1v1h-1zM28 544h2v1h-2zM977 159h1v1h-1zM278 373h2v1h-2zM1013 112h1v1h-1zM170 466h1v1h-1zM321 353h3v1h-3zM159 475h1v1h-1zM891 244h1v1h-1zM961 178h1v1h-1zM74 507h1v1h-1zM918 216h1v1h-1zM958 181h1v1h-1zM163 472h1v1h-1zM183 450h1v1h-1zM1005 122h1v1h-1zM1008 118h1v1h-1zM78 504h1v1h-1zM939 195h1v1h-1zM66 513h2v1h-2zM59 518h1v1h-1zM1003 125h1v1h-1zM352 325h2v1h-2zM341 334h1v1h-1zM969 168h1v1h-1zM937 197h1v1h-1zM39 535h1v1h-1zM334 340h1v1h-1zM194 436h1v1h-1zM927 207h1v1h-1zM930 203h1v1h-1zM1016 108h1v1h-1zM43 532h1v1h-1zM230 386h1v1h-1zM32 541h1v1h-1zM201 426h1v1h-1zM186 446h1v1h-1zM189 442h1v1h-1zM213 409h1v1h-1zM167 469h1v1h-1zM30 543h1v1h-1zM637 292h2v1h-2zM85 497h1v1h-1zM961 177h1v1h-1zM981 155h1v1h-1zM915 219h1v1h-1zM918 215h1v1h-1zM993 138h1v1h-1zM356 322h1v1h-1zM906 228h1v1h-1zM89 494h1v1h-1zM337 336h2v1h-2zM46 529h1v1h-1zM209 416h1v1h-1zM294 365h2v1h-2zM379 316h3v1h-3zM197 432h1v1h-1zM221 399h1v1h-1zM988 144h1v1h-1zM233 382h1v1h-1zM953 186h2v1h-2zM236 378h1v1h-1zM879 255h1v1h-1zM957 183h1v1h-1zM1004 124h1v1h-1zM949 188h2v1h-2zM305 361h2v1h-2zM898 237h1v1h-1zM92 491h2v1h-2zM984 151h1v1h-1zM987 147h1v1h-1zM1011 114h1v1h-1zM174 462h1v1h-1zM177 458h1v1h-1zM201 425h1v1h-1zM329 345h1v1h-1zM996 134h1v1h-1zM104 483h2v1h-2zM26 545h2v1h-2zM968 170h1v1h-1zM999 130h1v1h-1zM157 476h2v1h-2zM19 551h2v1h-2zM172 464h1v1h-1zM324 351h1v1h-1zM161 473h2v1h-2zM290 367h2v1h-2zM65 514h1v1h-1zM57 519h2v1h-2zM165 470h2v1h-2zM209 415h1v1h-1zM80 502h1v1h-1zM286 369h2v1h-2zM197 431h1v1h-1zM221 398h1v1h-1zM69 511h1v1h-1zM224 394h1v1h-1zM61 516h2v1h-2zM50 525h1v1h-1zM653 281h1v1h-1zM774 281h2v1h-2zM848 281h2v1h-2zM192 438h1v1h-1zM73 508h1v1h-1zM96 488h2v1h-2zM905 230h1v1h-1zM971 166h1v1h-1zM208 418h1v1h-1zM987 146h1v1h-1zM3 561h1v1h-1zM232 384h1v1h-1zM212 411h1v1h-1zM893 242h1v1h-1zM227 390h1v1h-1zM169 467h1v1h-1zM960 179h1v1h-1zM963 175h1v1h-1zM983 153h1v1h-1zM917 217h1v1h-1zM1007 120h1v1h-1zM995 136h1v1h-1zM910 224h1v1h-1zM877 257h1v1h-1zM77 505h1v1h-1zM343 332h1v1h-1zM955 185h1v1h-1zM180 454h1v1h-1zM932 201h1v1h-1zM629 298h2v1h-2zM235 380h1v1h-1zM971 165h1v1h-1zM905 229h1v1h-1zM1018 106h1v1h-1zM45 530h1v1h-1zM208 417h1v1h-1zM34 539h1v1h-1zM220 400h1v1h-1zM316 355h2v1h-2zM900 235h1v1h-1zM191 440h1v1h-1zM920 213h1v1h-1zM1010 116h1v1h-1zM200 427h1v1h-1zM331 343h1v1h-1zM203 423h1v1h-1zM212 410h1v1h-1zM215 406h1v1h-1zM21 550h1v1h-1zM924 210h1v1h-1zM292 366h2v1h-2zM983 152h1v1h-1zM888 247h1v1h-1zM951 187h2v1h-2zM288 368h2v1h-2zM943 192h1v1h-1zM63 515h2v1h-2zM990 142h1v1h-1zM156 477h1v1h-1zM912 222h1v1h-1zM223 396h1v1h-1zM881 253h1v1h-1zM235 379h1v1h-1zM52 523h1v1h-1zM160 474h1v1h-1zM56 520h1v1h-1zM218 402h1v1h-1zM876 259h1v1h-1zM986 149h1v1h-1zM179 456h1v1h-1zM998 132h1v1h-1zM1001 128h1v1h-1zM91 492h1v1h-1zM188 443h1v1h-1zM17 552h2v1h-2zM1010 115h1v1h-1zM1013 111h1v1h-1zM9 557h1v1h-1zM103 484h1v1h-1zM967 171h1v1h-1zM95 489h1v1h-1zM904 231h1v1h-1zM326 349h1v1h-1zM895 240h1v1h-1zM82 500h1v1h-1zM199 429h1v1h-1zM211 412h1v1h-1zM892 243h1v1h-1zM223 395h1v1h-1zM345 330h1v1h-1zM60 517h1v1h-1zM182 452h1v1h-1zM334 339h1v1h-1zM927 206h1v1h-1zM970 167h1v1h-1zM907 227h1v1h-1zM876 258h1v1h-1zM1020 104h1v1h-1zM986 148h1v1h-1zM207 419h1v1h-1zM47 528h1v1h-1zM1001 127h1v1h-1zM226 392h1v1h-1zM229 388h1v1h-1zM280 372h1v1h-1zM171 465h1v1h-1zM214 408h1v1h-1zM23 548h1v1h-1zM631 297h1v1h-1zM962 176h1v1h-1zM635 294h1v1h-1zM899 236h1v1h-1zM1009 117h1v1h-1zM79 503h1v1h-1zM349 327h1v1h-1zM887 249h1v1h-1zM639 291h1v1h-1zM934 199h1v1h-1zM342 333h1v1h-1zM992 140h1v1h-1zM957 182h1v1h-1zM182 451h1v1h-1zM938 196h1v1h-1zM973 163h1v1h-1zM357 321h1v1h-1zM942 193h1v1h-1zM1017 107h1v1h-1zM174 461h1v1h-1zM976 160h1v1h-1zM989 143h1v1h-1zM965 173h1v1h-1zM902 233h1v1h-1zM333 341h1v1h-1zM205 421h1v1h-1zM190 441h1v1h-1zM1012 113h1v1h-1zM217 404h1v1h-1zM926 208h1v1h-1zM202 424h1v1h-1zM226 391h1v1h-1zM229 387h1v1h-1zM31 542h1v1h-1zM214 407h1v1h-1zM86 496h1v1h-1zM985 150h1v1h-1zM185 447h1v1h-1zM890 245h1v1h-1zM914 220h1v1h-1zM980 156h1v1h-1zM992 139h1v1h-1zM946 190h1v1h-1zM336 337h1v1h-1zM51 524h1v1h-1zM193 437h1v1h-1zM978 158h1v1h-1zM929 204h1v1h-1zM1008 119h1v1h-1zM232 383h1v1h-1zM38 536h1v1h-1zM878 256h1v1h-1zM178 457h1v1h-1zM1000 129h1v1h-1zM42 533h1v1h-1zM969 169h1v1h-1zM8 558h1v1h-1zM897 238h1v1h-1zM173 463h1v1h-1zM325 350h1v1h-1zM81 501h1v1h-1zM355 323h1v1h-1zM225 393h1v1h-1zM196 433h1v1h-1zM344 331h1v1h-1zM1015 109h1v1h-1zM181 453h1v1h-1z"/><path fill="#1fb80f" shape-rendering="crispEdges" d="M681 258h1v1h-1zM718 258h1v1h-1zM862 258h1v1h-1zM311 323h1v1h-1zM346 323h2v1h-2zM355 323h2v1h-2zM67 482h4v1h-4zM121 482h2v1h-2zM130 482h2v1h-2zM660 268h6v1h-6zM730 268h1v1h-1zM855 268h1v1h-1zM315 319h2v1h-2zM326 319h8v1h-8zM337 319h2v1h-2zM365 319h7v1h-7zM555 319h2v1h-2zM580 319h1v1h-1zM666 267h2v1h-2zM729 267h1v1h-1zM856 267h1v1h-1zM79 479h4v1h-4zM92 479h4v1h-4zM101 479h4v1h-4zM136 479h8v1h-8zM624 284h4v1h-4zM744 284h2v1h-2zM834 284h1v1h-1zM613 287h2v1h-2zM753 287h2v1h-2zM781 287h3v1h-3zM788 287h9v1h-9zM806 287h8v1h-8zM819 287h4v1h-4zM827 287h3v1h-3zM174 441h1v1h-1zM890 212h1v1h-1zM910 199h3v1h-3zM213 369h1v1h-1zM244 369h1v1h-1zM287 369h1v1h-1zM389 305h2v1h-2zM429 305h8v1h-8zM482 305h2v1h-2zM540 305h1v1h-1zM593 305h1v1h-1zM306 331h1v1h-1zM668 266h3v1h-3zM728 266h1v1h-1zM857 266h1v1h-1zM396 301h3v1h-3zM404 301h4v1h-4zM412 301h5v1h-5zM490 301h4v1h-4zM520 301h5v1h-5zM597 301h1v1h-1zM965 153h1v1h-1zM620 285h4v1h-4zM746 285h4v1h-4zM832 285h2v1h-2zM211 371h1v1h-1zM246 371h1v1h-1zM286 371h1v1h-1zM75 480h4v1h-4zM83 480h9v1h-9zM105 480h13v1h-13zM134 480h2v1h-2zM408 300h4v1h-4zM494 300h9v1h-9zM517 300h3v1h-3zM598 300h1v1h-1zM190 403h1v1h-1zM383 310h1v1h-1zM443 310h3v1h-3zM455 310h5v1h-5zM546 310h1v1h-1zM589 310h1v1h-1zM628 283h4v1h-4zM743 283h1v1h-1zM835 283h2v1h-2zM386 307h2v1h-2zM438 307h2v1h-2zM477 307h3v1h-3zM542 307h2v1h-2zM591 307h1v1h-1zM394 302h2v1h-2zM399 302h5v1h-5zM417 302h4v1h-4zM488 302h2v1h-2zM525 302h3v1h-3zM534 302h2v1h-2zM596 302h1v1h-1zM634 281h6v1h-6zM740 281h1v1h-1zM840 281h3v1h-3zM157 473h1v1h-1zM673 264h2v1h-2zM726 264h1v1h-1zM858 264h1v1h-1zM160 469h1v1h-1zM313 321h1v1h-1zM341 321h2v1h-2zM359 321h2v1h-2zM559 321h5v1h-5zM571 321h2v1h-2zM691 250h2v1h-2zM701 250h1v1h-1zM866 250h1v1h-1zM220 362h10v1h-10zM239 362h1v1h-1zM290 362h1v1h-1zM612 288h1v1h-1zM755 288h11v1h-11zM779 288h2v1h-2zM823 288h4v1h-4zM948 176h3v1h-3zM683 255h2v1h-2zM714 255h1v1h-1zM864 255h1v1h-1zM71 481h4v1h-4zM118 481h3v1h-3zM132 481h2v1h-2zM611 289h1v1h-1zM766 289h2v1h-2zM777 289h2v1h-2zM384 309h1v1h-1zM441 309h2v1h-2zM460 309h4v1h-4zM545 309h1v1h-1zM590 309h1v1h-1zM615 286h5v1h-5zM750 286h3v1h-3zM784 286h4v1h-4zM797 286h9v1h-9zM814 286h5v1h-5zM830 286h2v1h-2zM173 444h1v1h-1zM153 475h3v1h-3zM96 478h5v1h-5zM144 478h3v1h-3zM201 381h1v1h-1zM255 381h1v1h-1zM281 381h1v1h-1zM219 363h1v1h-1zM240 363h1v1h-1zM290 363h1v1h-1zM391 304h2v1h-2zM425 304h4v1h-4zM484 304h2v1h-2zM530 304h2v1h-2zM538 304h2v1h-2zM594 304h1v1h-1zM886 218h1v1h-1zM213 368h1v1h-1zM243 368h1v1h-1zM287 368h1v1h-1zM875 236h1v1h-1zM679 261h1v1h-1zM722 261h1v1h-1zM861 261h1v1h-1zM956 170h1v1h-1zM189 406h1v1h-1zM383 311h1v1h-1zM446 311h2v1h-2zM451 311h4v1h-4zM546 311h1v1h-1zM588 311h1v1h-1zM644 277h2v1h-2zM736 277h1v1h-1zM848 277h1v1h-1zM232 360h2v1h-2zM238 360h1v1h-1zM291 360h1v1h-1zM50 504h1v1h-1zM382 312h1v1h-1zM448 312h3v1h-3zM547 312h1v1h-1zM587 312h1v1h-1zM977 131h1v1h-1zM385 308h1v1h-1zM440 308h1v1h-1zM464 308h13v1h-13zM544 308h1v1h-1zM590 308h1v1h-1zM980 127h1v1h-1zM374 317h3v1h-3zM553 317h1v1h-1zM583 317h1v1h-1zM62 487h1v1h-1zM609 291h1v1h-1zM770 291h2v1h-2zM774 291h1v1h-1zM653 272h1v1h-1zM732 272h1v1h-1zM852 272h1v1h-1zM314 320h1v1h-1zM317 320h9v1h-9zM339 320h2v1h-2zM361 320h4v1h-4zM557 320h2v1h-2zM573 320h7v1h-7zM693 249h8v1h-8zM867 249h1v1h-1zM649 274h2v1h-2zM733 274h1v1h-1zM850 274h1v1h-1zM393 303h1v1h-1zM421 303h4v1h-4zM486 303h2v1h-2zM528 303h2v1h-2zM532 303h2v1h-2zM536 303h2v1h-2zM595 303h1v1h-1zM172 447h1v1h-1zM641 279h2v1h-2zM738 279h1v1h-1zM845 279h2v1h-2zM181 425h1v1h-1zM651 273h2v1h-2zM733 273h1v1h-1zM851 273h1v1h-1zM632 282h2v1h-2zM741 282h2v1h-2zM837 282h3v1h-3zM960 163h1v1h-1zM312 322h1v1h-1zM343 322h3v1h-3zM357 322h2v1h-2zM564 322h7v1h-7zM975 133h1v1h-1zM984 120h1v1h-1zM197 387h1v1h-1zM258 387h1v1h-1zM278 387h1v1h-1zM681 257h1v1h-1zM717 257h1v1h-1zM863 257h1v1h-1zM58 494h1v1h-1zM297 349h1v1h-1zM196 391h1v1h-1zM264 391h2v1h-2zM273 391h2v1h-2zM688 252h1v1h-1zM704 252h2v1h-2zM709 252h2v1h-2zM865 252h1v1h-1zM168 454h1v1h-1zM157 472h1v1h-1zM41 517h1v1h-1zM160 468h1v1h-1zM197 388h1v1h-1zM259 388h2v1h-2zM277 388h1v1h-1zM971 140h1v1h-1zM195 393h1v1h-1zM269 393h3v1h-3zM208 374h1v1h-1zM250 374h1v1h-1zM284 374h1v1h-1zM53 500h1v1h-1zM33 531h1v1h-1zM56 496h1v1h-1zM230 361h2v1h-2zM239 361h1v1h-1zM291 361h1v1h-1zM305 334h1v1h-1zM689 251h2v1h-2zM702 251h2v1h-2zM706 251h3v1h-3zM866 251h1v1h-1zM65 483h2v1h-2zM123 483h7v1h-7zM916 196h2v1h-2zM995 97h1v1h-1zM173 443h1v1h-1zM675 263h2v1h-2zM725 263h1v1h-1zM859 263h1v1h-1zM185 417h1v1h-1zM503 299h4v1h-4zM515 299h2v1h-2zM598 299h1v1h-1zM201 380h1v1h-1zM254 380h1v1h-1zM282 380h1v1h-1zM964 155h1v1h-1zM14 544h8v1h-8zM164 461h1v1h-1zM215 366h1v1h-1zM241 366h1v1h-1zM288 366h1v1h-1zM189 405h1v1h-1zM679 260h1v1h-1zM721 260h1v1h-1zM861 260h1v1h-1zM334 318h3v1h-3zM372 318h2v1h-2zM554 318h1v1h-1zM581 318h2v1h-2zM310 324h1v1h-1zM348 324h7v1h-7zM988 112h1v1h-1zM204 377h2v1h-2zM252 377h1v1h-1zM283 377h1v1h-1zM507 298h8v1h-8zM599 298h1v1h-1zM234 359h2v1h-2zM238 359h1v1h-1zM292 359h1v1h-1zM29 538h1v1h-1zM301 341h1v1h-1zM654 271h2v1h-2zM732 271h1v1h-1zM853 271h1v1h-1zM894 208h1v1h-1zM172 446h1v1h-1zM198 385h1v1h-1zM257 385h1v1h-1zM280 385h1v1h-1zM195 392h1v1h-1zM266 392h3v1h-3zM272 392h1v1h-1zM960 162h1v1h-1zM882 224h1v1h-1zM193 398h1v1h-1zM927 191h2v1h-2zM906 200h4v1h-4zM874 238h1v1h-1zM898 205h1v1h-1zM1018 77h2v1h-2zM877 231h1v1h-1zM197 389h1v1h-1zM261 389h2v1h-2zM276 389h1v1h-1zM1010 82h2v1h-2zM381 314h1v1h-1zM549 314h1v1h-1zM585 314h1v1h-1zM889 214h1v1h-1zM869 245h1v1h-1zM297 348h1v1h-1zM61 489h1v1h-1zM180 428h1v1h-1zM3 546h7v1h-7zM209 373h1v1h-1zM248 373h2v1h-2zM285 373h1v1h-1zM677 262h2v1h-2zM723 262h2v1h-2zM860 262h1v1h-1zM913 198h1v1h-1zM196 390h1v1h-1zM263 390h1v1h-1zM275 390h1v1h-1zM682 256h1v1h-1zM715 256h2v1h-2zM863 256h1v1h-1zM959 165h1v1h-1zM44 512h1v1h-1zM671 265h2v1h-2zM727 265h1v1h-1zM858 265h1v1h-1zM149 476h4v1h-4zM983 122h1v1h-1zM939 183h1v1h-1zM296 351h1v1h-1zM179 431h1v1h-1zM656 270h2v1h-2zM731 270h1v1h-1zM853 270h1v1h-1zM188 409h1v1h-1zM951 175h1v1h-1zM943 180h1v1h-1zM388 306h1v1h-1zM437 306h1v1h-1zM480 306h2v1h-2zM541 306h1v1h-1zM592 306h1v1h-1zM605 293h2v1h-2zM955 172h1v1h-1zM156 474h1v1h-1zM309 326h1v1h-1zM40 519h1v1h-1zM994 100h1v1h-1zM946 177h2v1h-2zM932 188h2v1h-2zM935 186h2v1h-2zM979 129h1v1h-1zM924 193h2v1h-2zM885 220h1v1h-1zM1015 79h1v1h-1zM199 384h1v1h-1zM256 384h1v1h-1zM280 384h1v1h-1zM1003 86h2v1h-2zM1007 84h1v1h-1zM236 358h2v1h-2zM292 358h1v1h-1zM648 275h1v1h-1zM734 275h1v1h-1zM849 275h1v1h-1zM377 316h2v1h-2zM552 316h1v1h-1zM584 316h1v1h-1zM974 135h1v1h-1zM990 107h1v1h-1zM889 213h1v1h-1zM869 244h1v1h-1zM300 343h1v1h-1zM212 370h1v1h-1zM245 370h1v1h-1zM286 370h1v1h-1zM904 201h2v1h-2zM610 290h1v1h-1zM768 290h2v1h-2zM775 290h2v1h-2zM646 276h2v1h-2zM735 276h1v1h-1zM849 276h1v1h-1zM198 386h1v1h-1zM257 386h1v1h-1zM279 386h1v1h-1zM918 195h4v1h-4zM970 142h1v1h-1zM876 233h1v1h-1zM32 533h1v1h-1zM304 336h1v1h-1zM35 529h1v1h-1zM179 430h1v1h-1zM202 379h1v1h-1zM253 379h1v1h-1zM282 379h1v1h-1zM296 350h1v1h-1zM188 408h1v1h-1zM658 269h2v1h-2zM731 269h1v1h-1zM854 269h1v1h-1zM200 382h1v1h-1zM255 382h1v1h-1zM281 382h1v1h-1zM203 378h1v1h-1zM253 378h1v1h-1zM283 378h1v1h-1zM680 259h1v1h-1zM719 259h2v1h-2zM862 259h1v1h-1zM982 125h1v1h-1zM994 99h1v1h-1zM607 292h2v1h-2zM772 292h2v1h-2zM52 501h1v1h-1zM171 449h1v1h-1zM64 484h1v1h-1zM872 240h1v1h-1zM163 463h1v1h-1zM685 254h2v1h-2zM713 254h1v1h-1zM864 254h1v1h-1zM295 353h1v1h-1zM187 411h1v1h-1zM59 491h1v1h-1zM896 206h2v1h-2zM1008 83h2v1h-2zM998 92h1v1h-1zM24 542h2v1h-2zM1001 88h1v1h-1zM379 315h2v1h-2zM550 315h2v1h-2zM585 315h1v1h-1zM900 203h2v1h-2zM1013 80h2v1h-2zM167 456h1v1h-1zM868 247h1v1h-1zM914 197h2v1h-2zM159 470h1v1h-1zM147 477h2v1h-2zM958 167h1v1h-1zM43 514h1v1h-1zM10 545h4v1h-4zM207 375h1v1h-1zM251 375h1v1h-1zM284 375h1v1h-1zM35 528h1v1h-1zM600 297h1v1h-1zM989 109h1v1h-1zM888 215h1v1h-1zM178 433h1v1h-1zM604 294h1v1h-1zM945 178h1v1h-1zM969 145h1v1h-1zM962 158h1v1h-1zM934 187h1v1h-1zM926 192h1v1h-1zM194 395h1v1h-1zM39 521h1v1h-1zM993 102h1v1h-1zM171 448h1v1h-1zM938 184h1v1h-1zM1005 85h2v1h-2zM31 535h1v1h-1zM183 422h1v1h-1zM303 338h1v1h-1zM930 189h2v1h-2zM187 410h1v1h-1zM942 181h1v1h-1zM962 159h1v1h-1zM186 414h1v1h-1zM965 152h1v1h-1zM640 280h1v1h-1zM739 280h1v1h-1zM843 280h2v1h-2zM26 541h1v1h-1zM879 228h1v1h-1zM167 455h1v1h-1zM868 246h1v1h-1zM687 253h1v1h-1zM711 253h2v1h-2zM865 253h1v1h-1zM170 451h1v1h-1zM299 345h1v1h-1zM871 242h1v1h-1zM199 383h1v1h-1zM256 383h1v1h-1zM281 383h1v1h-1zM973 137h1v1h-1zM958 166h1v1h-1zM43 513h1v1h-1zM997 94h1v1h-1zM875 235h1v1h-1zM166 458h1v1h-1zM50 503h1v1h-1zM922 194h2v1h-2zM178 432h1v1h-1zM969 144h1v1h-1zM957 169h1v1h-1zM993 101h1v1h-1zM206 376h1v1h-1zM251 376h1v1h-1zM283 376h1v1h-1zM162 465h1v1h-1zM22 543h2v1h-2zM46 510h1v1h-1zM643 278h1v1h-1zM737 278h1v1h-1zM847 278h1v1h-1zM294 355h1v1h-1zM177 435h1v1h-1zM891 211h1v1h-1zM186 413h1v1h-1zM58 493h1v1h-1zM38 524h1v1h-1zM902 202h2v1h-2zM968 147h1v1h-1zM1000 90h1v1h-1zM217 364h2v1h-2zM240 364h1v1h-1zM289 364h1v1h-1zM992 104h1v1h-1zM30 537h1v1h-1zM182 424h1v1h-1zM214 367h1v1h-1zM242 367h1v1h-1zM288 367h1v1h-1zM305 333h1v1h-1zM973 136h1v1h-1zM185 416h1v1h-1zM997 93h1v1h-1zM964 154h1v1h-1zM1020 76h1v1h-1zM878 230h1v1h-1zM988 111h1v1h-1zM887 217h1v1h-1zM867 248h1v1h-1zM42 516h1v1h-1zM301 340h1v1h-1zM54 499h1v1h-1zM216 365h1v1h-1zM241 365h1v1h-1zM289 365h1v1h-1zM172 445h1v1h-1zM981 126h1v1h-1zM882 223h1v1h-1zM193 397h1v1h-1zM963 157h1v1h-1zM874 237h1v1h-1zM987 114h1v1h-1zM46 509h1v1h-1zM165 460h1v1h-1zM49 505h1v1h-1zM381 313h1v1h-1zM548 313h1v1h-1zM586 313h1v1h-1zM976 132h1v1h-1zM177 434h1v1h-1zM602 295h2v1h-2zM186 412h1v1h-1zM38 523h1v1h-1zM61 488h1v1h-1zM968 146h1v1h-1zM1000 89h1v1h-1zM210 372h1v1h-1zM247 372h1v1h-1zM285 372h1v1h-1zM992 103h1v1h-1zM1012 81h1v1h-1zM959 164h1v1h-1zM169 453h1v1h-1zM181 427h1v1h-1zM161 467h1v1h-1zM972 139h1v1h-1zM293 357h1v1h-1zM34 530h1v1h-1zM57 495h1v1h-1zM185 415h1v1h-1zM37 526h1v1h-1zM996 96h1v1h-1zM878 229h1v1h-1zM309 325h1v1h-1zM979 128h1v1h-1zM184 419h1v1h-1zM885 219h1v1h-1zM940 182h2v1h-2zM963 156h1v1h-1zM952 174h2v1h-2zM987 113h1v1h-1zM176 438h1v1h-1zM944 179h1v1h-1zM308 328h1v1h-1zM28 539h1v1h-1zM300 342h1v1h-1zM192 400h1v1h-1zM967 149h1v1h-1zM893 209h1v1h-1zM991 106h1v1h-1zM870 243h1v1h-1zM181 426h1v1h-1zM45 511h1v1h-1zM304 335h1v1h-1zM972 138h1v1h-1zM975 134h1v1h-1zM37 525h1v1h-1zM984 121h1v1h-1zM188 407h1v1h-1zM996 95h1v1h-1zM999 91h1v1h-1zM982 124h1v1h-1zM184 418h1v1h-1zM41 518h1v1h-1zM971 141h1v1h-1zM33 532h1v1h-1zM56 497h1v1h-1zM295 352h1v1h-1zM995 98h1v1h-1zM176 437h1v1h-1zM954 173h1v1h-1zM308 327h1v1h-1zM164 462h1v1h-1zM48 507h1v1h-1zM978 130h1v1h-1zM192 399h1v1h-1zM60 490h1v1h-1zM881 225h1v1h-1zM967 148h1v1h-1zM873 239h1v1h-1zM991 105h1v1h-1zM983 123h1v1h-1zM175 440h1v1h-1zM307 330h1v1h-1zM877 232h1v1h-1zM191 402h1v1h-1zM966 151h1v1h-1zM180 429h1v1h-1zM1016 78h2v1h-2zM183 421h1v1h-1zM303 337h1v1h-1zM884 221h1v1h-1zM601 296h1v1h-1zM986 116h1v1h-1zM176 436h1v1h-1zM63 486h1v1h-1zM48 506h1v1h-1zM1002 87h1v1h-1zM170 450h1v1h-1zM40 520h1v1h-1zM299 344h1v1h-1zM895 207h1v1h-1zM985 119h1v1h-1zM175 439h1v1h-1zM899 204h1v1h-1zM307 329h1v1h-1zM166 457h1v1h-1zM191 401h1v1h-1zM36 527h1v1h-1zM298 347h1v1h-1zM966 150h1v1h-1zM990 108h1v1h-1zM158 471h1v1h-1zM892 210h1v1h-1zM957 168h1v1h-1zM51 502h1v1h-1zM183 420h1v1h-1zM195 394h1v1h-1zM970 143h1v1h-1zM162 464h1v1h-1zM876 234h1v1h-1zM32 534h1v1h-1zM986 115h1v1h-1zM989 110h1v1h-1zM294 354h1v1h-1zM63 485h1v1h-1zM27 540h1v1h-1zM30 536h1v1h-1zM182 423h1v1h-1zM880 227h1v1h-1zM937 185h1v1h-1zM961 161h1v1h-1zM872 241h1v1h-1zM985 118h1v1h-1zM59 492h1v1h-1zM174 442h1v1h-1zM47 508h1v1h-1zM306 332h1v1h-1zM887 216h1v1h-1zM298 346h1v1h-1zM190 404h1v1h-1zM42 515h1v1h-1zM302 339h1v1h-1zM929 190h1v1h-1zM165 459h1v1h-1zM55 498h1v1h-1zM956 171h1v1h-1zM880 226h1v1h-1zM169 452h1v1h-1zM194 396h1v1h-1zM883 222h1v1h-1zM39 522h1v1h-1zM961 160h1v1h-1zM161 466h1v1h-1zM985 117h1v1h-1zM293 356h1v1h-1z"/><path fill="#ff0000" shape-rendering="crispEdges" d="M22 545h1v1h-1zM317 315h4v1h-4zM324 315h2v1h-2zM361 315h1v1h-1zM546 315h1v1h-1zM574 315h1v1h-1zM44 484h1v1h-1zM53 484h2v1h-2zM56 484h2v1h-2zM123 484h7v1h-7zM368 308h1v1h-1zM420 308h1v1h-1zM463 308h1v1h-1zM527 308h2v1h-2zM532 308h1v1h-1zM541 308h1v1h-1zM578 308h1v1h-1zM679 255h1v1h-1zM706 255h1v1h-1zM856 255h1v1h-1zM385 304h2v1h-2zM417 304h1v1h-1zM472 304h2v1h-2zM519 304h2v1h-2zM580 304h1v1h-1zM195 368h1v1h-1zM202 368h3v1h-3zM209 368h3v1h-3zM240 368h1v1h-1zM277 368h1v1h-1zM3 547h3v1h-3zM18 547h2v1h-2zM618 283h2v1h-2zM735 283h1v1h-1zM781 283h6v1h-6zM828 283h2v1h-2zM957 157h1v1h-1zM214 363h1v1h-1zM239 363h1v1h-1zM278 363h1v1h-1zM397 297h7v1h-7zM407 297h2v1h-2zM490 297h17v1h-17zM584 297h1v1h-1zM47 481h2v1h-2zM71 481h2v1h-2zM101 481h7v1h-7zM132 481h1v1h-1zM650 271h2v1h-2zM715 271h1v1h-1zM846 271h1v1h-1zM863 235h1v1h-1zM162 453h1v1h-1zM371 306h11v1h-11zM418 306h1v1h-1zM466 306h2v1h-2zM523 306h2v1h-2zM534 306h1v1h-1zM537 306h2v1h-2zM579 306h1v1h-1zM393 300h1v1h-1zM412 300h2v1h-2zM484 300h2v1h-2zM513 300h2v1h-2zM582 300h1v1h-1zM404 296h3v1h-3zM584 296h1v1h-1zM585 295h1v1h-1zM751 295h2v1h-2zM615 286h1v1h-1zM739 286h1v1h-1zM775 286h2v1h-2zM790 286h7v1h-7zM814 286h9v1h-9zM170 429h1v1h-1zM216 361h2v1h-2zM238 361h1v1h-1zM278 361h1v1h-1zM169 433h1v1h-1zM627 277h1v1h-1zM639 277h1v1h-1zM719 277h2v1h-2zM723 277h2v1h-2zM728 277h3v1h-3zM839 277h2v1h-2zM177 402h1v1h-1zM252 402h1v1h-1zM266 402h1v1h-1zM180 394h1v1h-1zM250 394h1v1h-1zM270 394h1v1h-1zM653 269h1v1h-1zM714 269h1v1h-1zM848 269h1v1h-1zM34 510h1v1h-1zM282 346h1v1h-1zM25 541h1v1h-1zM633 274h3v1h-3zM645 274h2v1h-2zM717 274h1v1h-1zM844 274h1v1h-1zM76 476h1v1h-1zM79 476h3v1h-3zM137 476h6v1h-6zM176 404h1v1h-1zM253 404h1v1h-1zM265 404h1v1h-1zM185 382h1v1h-1zM245 382h1v1h-1zM273 382h1v1h-1zM42 486h1v1h-1zM969 122h1v1h-1zM363 312h1v1h-1zM425 312h2v1h-2zM428 312h2v1h-2zM451 312h3v1h-3zM545 312h1v1h-1zM576 312h1v1h-1zM394 299h1v1h-1zM411 299h1v1h-1zM486 299h2v1h-2zM511 299h2v1h-2zM582 299h1v1h-1zM382 305h3v1h-3zM417 305h1v1h-1zM468 305h4v1h-4zM521 305h2v1h-2zM535 305h2v1h-2zM579 305h1v1h-1zM290 327h1v1h-1zM340 327h1v1h-1zM355 327h1v1h-1zM554 327h1v1h-1zM569 327h1v1h-1zM287 334h1v1h-1zM556 334h1v1h-1zM563 334h2v1h-2zM173 416h1v1h-1zM257 416h1v1h-1zM260 416h1v1h-1zM976 102h1v1h-1zM391 301h2v1h-2zM414 301h1v1h-1zM482 301h2v1h-2zM515 301h1v1h-1zM581 301h1v1h-1zM956 160h1v1h-1zM878 205h2v1h-2zM395 298h2v1h-2zM409 298h2v1h-2zM488 298h2v1h-2zM507 298h4v1h-4zM583 298h1v1h-1zM198 365h1v1h-1zM213 365h1v1h-1zM239 365h1v1h-1zM277 365h1v1h-1zM972 109h1v1h-1zM161 455h1v1h-1zM73 480h1v1h-1zM97 480h4v1h-4zM133 480h1v1h-1zM875 212h1v1h-1zM291 326h1v1h-1zM300 326h3v1h-3zM340 326h1v1h-1zM356 326h1v1h-1zM553 326h1v1h-1zM570 326h1v1h-1zM369 307h2v1h-2zM419 307h1v1h-1zM464 307h2v1h-2zM525 307h2v1h-2zM533 307h1v1h-1zM539 307h2v1h-2zM578 307h1v1h-1zM688 242h2v1h-2zM700 242h1v1h-1zM861 242h1v1h-1zM168 435h1v1h-1zM628 276h2v1h-2zM637 276h2v1h-2zM640 276h2v1h-2zM718 276h1v1h-1zM725 276h3v1h-3zM841 276h2v1h-2zM75 478h1v1h-1zM84 478h11v1h-11zM135 478h1v1h-1zM33 512h1v1h-1zM281 348h1v1h-1zM1003 73h1v1h-1zM960 148h1v1h-1zM293 322h1v1h-1zM305 322h1v1h-1zM337 322h1v1h-1zM358 322h1v1h-1zM551 322h1v1h-1zM571 322h1v1h-1zM590 289h1v1h-1zM598 289h4v1h-4zM610 289h2v1h-2zM744 289h1v1h-1zM764 289h2v1h-2zM801 289h2v1h-2zM810 289h1v1h-1zM656 267h1v1h-1zM713 267h1v1h-1zM849 267h1v1h-1zM968 124h1v1h-1zM624 279h2v1h-2zM732 279h1v1h-1zM835 279h2v1h-2zM321 314h3v1h-3zM362 314h1v1h-1zM546 314h1v1h-1zM575 314h1v1h-1zM183 385h1v1h-1zM246 385h1v1h-1zM273 385h1v1h-1zM967 128h1v1h-1zM367 309h1v1h-1zM421 309h2v1h-2zM435 309h6v1h-6zM460 309h3v1h-3zM529 309h3v1h-3zM542 309h1v1h-1zM577 309h1v1h-1zM196 367h1v1h-1zM200 367h2v1h-2zM212 367h1v1h-1zM240 367h1v1h-1zM277 367h1v1h-1zM289 329h1v1h-1zM342 329h2v1h-2zM353 329h1v1h-1zM554 329h1v1h-1zM568 329h1v1h-1zM913 193h1v1h-1zM588 291h1v1h-1zM745 291h1v1h-1zM759 291h3v1h-3zM806 291h3v1h-3zM975 104h1v1h-1zM690 241h2v1h-2zM698 241h2v1h-2zM862 241h1v1h-1zM675 257h2v1h-2zM707 257h1v1h-1zM854 257h1v1h-1zM190 373h1v1h-1zM241 373h1v1h-1zM276 373h1v1h-1zM389 302h2v1h-2zM415 302h1v1h-1zM480 302h2v1h-2zM516 302h2v1h-2zM581 302h1v1h-1zM159 462h1v1h-1zM591 288h1v1h-1zM594 288h4v1h-4zM612 288h2v1h-2zM742 288h2v1h-2zM766 288h2v1h-2zM771 288h3v1h-3zM800 288h1v1h-1zM811 288h1v1h-1zM181 390h1v1h-1zM248 390h1v1h-1zM271 390h1v1h-1zM1007 70h2v1h-2zM1013 70h5v1h-5zM290 328h1v1h-1zM341 328h1v1h-1zM354 328h1v1h-1zM554 328h1v1h-1zM569 328h1v1h-1zM652 270h1v1h-1zM715 270h1v1h-1zM847 270h1v1h-1zM686 244h1v1h-1zM701 244h1v1h-1zM861 244h1v1h-1zM649 272h1v1h-1zM716 272h1v1h-1zM845 272h1v1h-1zM184 383h1v1h-1zM245 383h1v1h-1zM273 383h1v1h-1zM177 401h1v1h-1zM252 401h1v1h-1zM266 401h1v1h-1zM959 150h1v1h-1zM958 154h1v1h-1zM220 359h1v1h-1zM238 359h1v1h-1zM278 359h1v1h-1zM288 331h1v1h-1zM346 331h2v1h-2zM350 331h1v1h-1zM555 331h1v1h-1zM567 331h1v1h-1zM910 195h2v1h-2zM173 418h1v1h-1zM257 418h1v1h-1zM259 418h1v1h-1zM286 336h1v1h-1zM557 336h2v1h-2zM180 392h1v1h-1zM249 392h1v1h-1zM271 392h1v1h-1zM288 332h1v1h-1zM348 332h2v1h-2zM556 332h1v1h-1zM567 332h1v1h-1zM966 130h1v1h-1zM935 179h2v1h-2zM171 426h1v1h-1zM6 548h4v1h-4zM14 548h4v1h-4zM683 251h1v1h-1zM704 251h1v1h-1zM858 251h1v1h-1zM284 339h1v1h-1zM617 284h1v1h-1zM736 284h2v1h-2zM779 284h2v1h-2zM787 284h1v1h-1zM826 284h2v1h-2zM188 375h1v1h-1zM241 375h1v1h-1zM275 375h1v1h-1zM158 464h1v1h-1zM586 294h1v1h-1zM749 294h2v1h-2zM753 294h2v1h-2zM685 247h1v1h-1zM702 247h1v1h-1zM860 247h1v1h-1zM970 118h1v1h-1zM175 409h1v1h-1zM254 409h1v1h-1zM262 409h1v1h-1zM918 189h2v1h-2zM312 317h2v1h-2zM328 317h1v1h-1zM360 317h1v1h-1zM547 317h1v1h-1zM573 317h1v1h-1zM680 254h1v1h-1zM706 254h1v1h-1zM856 254h1v1h-1zM175 410h1v1h-1zM255 410h1v1h-1zM262 410h1v1h-1zM221 358h2v1h-2zM238 358h1v1h-1zM279 358h1v1h-1zM937 178h1v1h-1zM957 156h1v1h-1zM387 303h2v1h-2zM416 303h1v1h-1zM474 303h6v1h-6zM518 303h1v1h-1zM580 303h1v1h-1zM173 420h1v1h-1zM258 420h1v1h-1zM162 452h1v1h-1zM192 371h1v1h-1zM240 371h1v1h-1zM276 371h1v1h-1zM170 428h1v1h-1zM661 260h1v1h-1zM668 260h3v1h-3zM709 260h1v1h-1zM853 260h1v1h-1zM622 281h1v1h-1zM733 281h1v1h-1zM832 281h2v1h-2zM289 330h1v1h-1zM344 330h2v1h-2zM351 330h2v1h-2zM555 330h1v1h-1zM568 330h1v1h-1zM218 360h2v1h-2zM238 360h1v1h-1zM278 360h1v1h-1zM989 94h1v1h-1zM660 262h1v1h-1zM664 262h2v1h-2zM710 262h1v1h-1zM852 262h1v1h-1zM291 325h1v1h-1zM297 325h3v1h-3zM303 325h1v1h-1zM339 325h1v1h-1zM356 325h1v1h-1zM553 325h1v1h-1zM570 325h1v1h-1zM969 121h1v1h-1zM684 249h1v1h-1zM703 249h1v1h-1zM859 249h1v1h-1zM287 333h1v1h-1zM556 333h1v1h-1zM565 333h2v1h-2zM364 311h2v1h-2zM424 311h1v1h-1zM430 311h3v1h-3zM443 311h8v1h-8zM454 311h2v1h-2zM544 311h1v1h-1zM576 311h1v1h-1zM43 485h1v1h-1zM55 485h1v1h-1zM150 468h2v1h-2zM156 468h1v1h-1zM677 256h2v1h-2zM707 256h1v1h-1zM855 256h1v1h-1zM956 159h1v1h-1zM46 482h1v1h-1zM49 482h3v1h-3zM60 482h6v1h-6zM69 482h2v1h-2zM108 482h2v1h-2zM114 482h7v1h-7zM131 482h1v1h-1zM226 355h2v1h-2zM237 355h1v1h-1zM279 355h1v1h-1zM179 396h1v1h-1zM250 396h1v1h-1zM269 396h1v1h-1zM692 240h2v1h-2zM696 240h2v1h-2zM862 240h1v1h-1zM659 263h1v1h-1zM711 263h1v1h-1zM851 263h1v1h-1zM863 237h1v1h-1zM875 211h1v1h-1zM366 310h1v1h-1zM423 310h1v1h-1zM433 310h2v1h-2zM441 310h2v1h-2zM456 310h4v1h-4zM543 310h1v1h-1zM577 310h1v1h-1zM45 483h1v1h-1zM52 483h1v1h-1zM58 483h2v1h-2zM66 483h3v1h-3zM110 483h4v1h-4zM121 483h2v1h-2zM130 483h1v1h-1zM178 399h1v1h-1zM251 399h1v1h-1zM267 399h1v1h-1zM186 379h1v1h-1zM243 379h1v1h-1zM274 379h1v1h-1zM176 403h1v1h-1zM252 403h1v1h-1zM265 403h1v1h-1zM592 287h2v1h-2zM614 287h1v1h-1zM740 287h2v1h-2zM768 287h3v1h-3zM774 287h1v1h-1zM797 287h3v1h-3zM812 287h2v1h-2zM281 347h1v1h-1zM960 147h1v1h-1zM362 313h1v1h-1zM427 313h1v1h-1zM545 313h1v1h-1zM575 313h1v1h-1zM186 380h1v1h-1zM244 380h1v1h-1zM274 380h1v1h-1zM176 406h1v1h-1zM253 406h1v1h-1zM264 406h1v1h-1zM184 384h1v1h-1zM246 384h1v1h-1zM273 384h1v1h-1zM175 407h1v1h-1zM254 407h1v1h-1zM263 407h1v1h-1zM626 278h1v1h-1zM721 278h2v1h-2zM731 278h1v1h-1zM837 278h2v1h-2zM657 266h1v1h-1zM712 266h1v1h-1zM849 266h1v1h-1zM880 204h8v1h-8zM228 354h2v1h-2zM236 354h2v1h-2zM279 354h1v1h-1zM197 366h1v1h-1zM199 366h1v1h-1zM212 366h1v1h-1zM239 366h1v1h-1zM277 366h1v1h-1zM673 258h2v1h-2zM708 258h1v1h-1zM854 258h1v1h-1zM173 417h1v1h-1zM257 417h1v1h-1zM259 417h1v1h-1zM931 182h2v1h-2zM657 265h1v1h-1zM712 265h1v1h-1zM850 265h1v1h-1zM694 239h2v1h-2zM862 239h1v1h-1zM972 111h1v1h-1zM927 184h3v1h-3zM874 213h1v1h-1zM687 243h1v1h-1zM700 243h1v1h-1zM861 243h1v1h-1zM168 437h1v1h-1zM182 387h1v1h-1zM247 387h1v1h-1zM272 387h1v1h-1zM683 250h1v1h-1zM704 250h1v1h-1zM858 250h1v1h-1zM912 194h1v1h-1zM29 521h1v1h-1zM181 389h1v1h-1zM248 389h1v1h-1zM272 389h1v1h-1zM587 292h1v1h-1zM746 292h1v1h-1zM757 292h2v1h-2zM620 282h2v1h-2zM734 282h1v1h-1zM830 282h2v1h-2zM292 323h1v1h-1zM294 323h1v1h-1zM304 323h1v1h-1zM338 323h1v1h-1zM358 323h1v1h-1zM551 323h1v1h-1zM571 323h1v1h-1zM187 377h1v1h-1zM242 377h1v1h-1zM275 377h1v1h-1zM285 338h1v1h-1zM873 216h1v1h-1zM1006 71h1v1h-1zM1018 71h3v1h-3zM589 290h1v1h-1zM602 290h8v1h-8zM745 290h1v1h-1zM762 290h2v1h-2zM803 290h3v1h-3zM809 290h1v1h-1zM971 113h1v1h-1zM314 316h3v1h-3zM326 316h2v1h-2zM361 316h1v1h-1zM547 316h1v1h-1zM574 316h1v1h-1zM686 245h1v1h-1zM701 245h1v1h-1zM860 245h1v1h-1zM180 393h1v1h-1zM249 393h1v1h-1zM270 393h1v1h-1zM647 273h2v1h-2zM716 273h1v1h-1zM845 273h1v1h-1zM979 100h4v1h-4zM920 188h1v1h-1zM286 335h1v1h-1zM557 335h1v1h-1zM559 335h4v1h-4zM682 252h1v1h-1zM705 252h1v1h-1zM857 252h1v1h-1zM865 230h1v1h-1zM284 341h1v1h-1zM962 139h1v1h-1zM36 504h1v1h-1zM671 259h2v1h-2zM708 259h1v1h-1zM853 259h1v1h-1zM175 411h1v1h-1zM255 411h1v1h-1zM261 411h1v1h-1zM942 174h1v1h-1zM888 203h3v1h-3zM230 353h2v1h-2zM234 353h2v1h-2zM280 353h1v1h-1zM174 412h1v1h-1zM255 412h1v1h-1zM261 412h1v1h-1zM957 158h1v1h-1zM864 232h1v1h-1zM162 454h1v1h-1zM187 378h1v1h-1zM243 378h1v1h-1zM274 378h1v1h-1zM902 200h2v1h-2zM952 165h2v1h-2zM170 430h1v1h-1zM27 530h1v1h-1zM949 167h2v1h-2zM179 395h1v1h-1zM250 395h1v1h-1zM269 395h1v1h-1zM630 275h3v1h-3zM636 275h1v1h-1zM642 275h3v1h-3zM717 275h1v1h-1zM843 275h1v1h-1zM35 506h1v1h-1zM42 487h1v1h-1zM969 123h1v1h-1zM149 469h1v1h-1zM152 469h2v1h-2zM156 469h1v1h-1zM956 161h1v1h-1zM146 472h1v1h-1zM225 356h1v1h-1zM237 356h1v1h-1zM279 356h1v1h-1zM307 320h1v1h-1zM331 320h1v1h-1zM334 320h3v1h-3zM359 320h1v1h-1zM549 320h1v1h-1zM572 320h1v1h-1zM658 264h1v1h-1zM711 264h1v1h-1zM850 264h1v1h-1zM862 238h1v1h-1zM161 456h1v1h-1zM177 400h1v1h-1zM252 400h1v1h-1zM267 400h1v1h-1zM586 293h1v1h-1zM747 293h2v1h-2zM755 293h2v1h-2zM306 321h1v1h-1zM332 321h2v1h-2zM337 321h1v1h-1zM359 321h1v1h-1zM550 321h1v1h-1zM572 321h1v1h-1zM660 261h1v1h-1zM662 261h2v1h-2zM666 261h2v1h-2zM709 261h1v1h-1zM852 261h1v1h-1zM281 349h1v1h-1zM960 149h1v1h-1zM77 475h2v1h-2zM143 475h1v1h-1zM968 125h1v1h-1zM908 196h2v1h-2zM188 376h1v1h-1zM242 376h1v1h-1zM275 376h1v1h-1zM285 337h1v1h-1zM74 479h1v1h-1zM95 479h2v1h-2zM134 479h1v1h-1zM75 477h1v1h-1zM82 477h2v1h-2zM136 477h1v1h-1zM959 151h1v1h-1zM983 99h3v1h-3zM174 414h1v1h-1zM256 414h1v1h-1zM260 414h1v1h-1zM164 446h1v1h-1zM29 523h1v1h-1zM181 391h1v1h-1zM248 391h1v1h-1zM271 391h1v1h-1zM172 422h1v1h-1zM284 340h1v1h-1zM292 324h1v1h-1zM295 324h2v1h-2zM304 324h1v1h-1zM339 324h1v1h-1zM357 324h1v1h-1zM552 324h1v1h-1zM571 324h1v1h-1zM971 115h1v1h-1zM163 449h1v1h-1zM877 206h1v1h-1zM28 525h1v1h-1zM994 89h1v1h-1zM962 141h1v1h-1zM891 202h2v1h-2zM897 202h3v1h-3zM280 350h1v1h-1zM23 544h1v1h-1zM864 234h1v1h-1zM876 208h1v1h-1zM974 105h1v1h-1zM185 381h1v1h-1zM244 381h1v1h-1zM274 381h1v1h-1zM27 532h1v1h-1zM961 144h1v1h-1zM35 508h1v1h-1zM178 398h1v1h-1zM251 398h1v1h-1zM268 398h1v1h-1zM868 222h1v1h-1zM175 408h1v1h-1zM254 408h1v1h-1zM263 408h1v1h-1zM173 419h1v1h-1zM258 419h1v1h-1zM214 364h1v1h-1zM239 364h1v1h-1zM277 364h1v1h-1zM223 357h2v1h-2zM238 357h1v1h-1zM279 357h1v1h-1zM965 132h1v1h-1zM39 496h1v1h-1zM973 108h1v1h-1zM161 458h1v1h-1zM874 214h1v1h-1zM1004 72h2v1h-2zM182 388h1v1h-1zM247 388h1v1h-1zM272 388h1v1h-1zM867 224h1v1h-1zM1000 79h1v1h-1zM29 522h1v1h-1zM172 421h1v1h-1zM964 134h1v1h-1zM996 86h1v1h-1zM38 499h1v1h-1zM971 114h1v1h-1zM991 92h1v1h-1zM160 460h1v1h-1zM616 285h1v1h-1zM738 285h1v1h-1zM777 285h2v1h-2zM788 285h2v1h-2zM823 285h3v1h-3zM943 173h1v1h-1zM988 95h1v1h-1zM916 191h1v1h-1zM865 231h1v1h-1zM999 81h1v1h-1zM164 448h1v1h-1zM172 424h1v1h-1zM963 136h1v1h-1zM962 140h1v1h-1zM179 397h1v1h-1zM251 397h1v1h-1zM268 397h1v1h-1zM995 88h1v1h-1zM36 505h1v1h-1zM893 201h4v1h-4zM900 201h2v1h-2zM41 489h1v1h-1zM864 233h1v1h-1zM163 451h1v1h-1zM170 431h1v1h-1zM27 531h1v1h-1zM194 369h1v1h-1zM205 369h4v1h-4zM240 369h1v1h-1zM276 369h1v1h-1zM961 143h1v1h-1zM925 185h2v1h-2zM35 507h1v1h-1zM868 221h1v1h-1zM167 439h1v1h-1zM32 515h1v1h-1zM39 495h1v1h-1zM973 107h1v1h-1zM161 457h1v1h-1zM10 549h4v1h-4zM191 372h1v1h-1zM241 372h1v1h-1zM276 372h1v1h-1zM27 534h1v1h-1zM872 217h1v1h-1zM867 223h1v1h-1zM968 126h1v1h-1zM174 413h1v1h-1zM256 413h1v1h-1zM261 413h1v1h-1zM166 441h1v1h-1zM1000 78h1v1h-1zM183 386h1v1h-1zM246 386h1v1h-1zM272 386h1v1h-1zM996 85h1v1h-1zM38 498h1v1h-1zM933 181h1v1h-1zM160 459h1v1h-1zM959 152h1v1h-1zM157 467h1v1h-1zM940 175h2v1h-2zM174 415h1v1h-1zM256 415h1v1h-1zM260 415h1v1h-1zM999 80h1v1h-1zM164 447h1v1h-1zM29 524h1v1h-1zM172 423h1v1h-1zM995 87h1v1h-1zM951 166h1v1h-1zM215 362h1v1h-1zM239 362h1v1h-1zM278 362h1v1h-1zM947 168h2v1h-2zM987 96h1v1h-1zM24 543h1v1h-1zM308 319h2v1h-2zM330 319h1v1h-1zM360 319h1v1h-1zM548 319h1v1h-1zM573 319h1v1h-1zM41 488h1v1h-1zM163 450h1v1h-1zM148 470h1v1h-1zM154 470h2v1h-2zM877 207h1v1h-1zM28 526h1v1h-1zM955 162h1v1h-1zM962 142h1v1h-1zM167 438h1v1h-1zM280 351h1v1h-1zM32 514h1v1h-1zM654 268h2v1h-2zM714 268h1v1h-1zM848 268h1v1h-1zM623 280h1v1h-1zM732 280h1v1h-1zM834 280h1v1h-1zM876 209h1v1h-1zM974 106h1v1h-1zM27 533h1v1h-1zM961 145h1v1h-1zM685 246h1v1h-1zM702 246h1v1h-1zM860 246h1v1h-1zM310 318h2v1h-2zM329 318h1v1h-1zM360 318h1v1h-1zM548 318h1v1h-1zM573 318h1v1h-1zM1002 74h1v1h-1zM681 253h1v1h-1zM705 253h1v1h-1zM857 253h1v1h-1zM965 133h1v1h-1zM39 497h1v1h-1zM684 248h1v1h-1zM703 248h1v1h-1zM859 248h1v1h-1zM26 535h1v1h-1zM871 218h1v1h-1zM157 466h1v1h-1zM917 190h1v1h-1zM232 352h2v1h-2zM280 352h1v1h-1zM867 225h1v1h-1zM166 443h1v1h-1zM964 135h1v1h-1zM38 500h1v1h-1zM160 461h1v1h-1zM866 227h1v1h-1zM963 137h1v1h-1zM37 502h1v1h-1zM923 186h2v1h-2zM176 405h1v1h-1zM253 405h1v1h-1zM264 405h1v1h-1zM41 490h1v1h-1zM147 471h1v1h-1zM144 474h1v1h-1zM28 528h1v1h-1zM193 370h1v1h-1zM240 370h1v1h-1zM276 370h1v1h-1zM167 440h1v1h-1zM32 516h1v1h-1zM976 101h3v1h-3zM40 492h1v1h-1zM934 180h1v1h-1zM189 374h1v1h-1zM241 374h1v1h-1zM275 374h1v1h-1zM166 442h1v1h-1zM914 192h2v1h-2zM31 518h1v1h-1zM1009 69h4v1h-4zM283 343h1v1h-1zM26 537h1v1h-1zM866 226h1v1h-1zM165 444h1v1h-1zM30 520h1v1h-1zM37 501h1v1h-1zM992 91h1v1h-1zM169 432h1v1h-1zM34 509h1v1h-1zM282 345h1v1h-1zM25 540h1v1h-1zM987 97h1v1h-1zM944 172h1v1h-1zM28 527h1v1h-1zM955 163h1v1h-1zM905 198h2v1h-2zM40 491h1v1h-1zM967 127h1v1h-1zM975 103h1v1h-1zM907 197h1v1h-1zM869 220h1v1h-1zM1002 75h1v1h-1zM31 517h1v1h-1zM958 153h1v1h-1zM939 176h1v1h-1zM998 82h1v1h-1zM966 129h1v1h-1zM40 494h1v1h-1zM171 425h1v1h-1zM283 342h1v1h-1zM26 536h1v1h-1zM946 169h1v1h-1zM970 117h1v1h-1zM986 98h1v1h-1zM1001 77h1v1h-1zM30 519h1v1h-1zM997 84h1v1h-1zM944 171h1v1h-1zM921 187h2v1h-2zM26 539h1v1h-1zM969 120h1v1h-1zM20 546h2v1h-2zM866 228h1v1h-1zM145 473h1v1h-1zM963 138h1v1h-1zM37 503h1v1h-1zM863 236h1v1h-1zM875 210h1v1h-1zM169 434h1v1h-1zM960 146h1v1h-1zM34 511h1v1h-1zM25 542h1v1h-1zM954 164h1v1h-1zM28 529h1v1h-1zM904 199h1v1h-1zM972 110h1v1h-1zM168 436h1v1h-1zM870 219h1v1h-1zM33 513h1v1h-1zM40 493h1v1h-1zM930 183h1v1h-1zM873 215h1v1h-1zM159 463h1v1h-1zM971 112h1v1h-1zM970 116h1v1h-1zM1001 76h1v1h-1zM938 177h1v1h-1zM958 155h1v1h-1zM997 83h1v1h-1zM865 229h1v1h-1zM966 131h1v1h-1zM993 90h1v1h-1zM171 427h1v1h-1zM283 344h1v1h-1zM990 93h1v1h-1zM26 538h1v1h-1zM158 465h1v1h-1zM945 170h1v1h-1zM970 119h1v1h-1zM165 445h1v1h-1z"/><line x1="799.5" y1="315.5" x2="972.5" y2="168.3" stroke="#000" stroke-width="2.2"/><line x1="975" y1="166.2" x2="1050" y2="102.3" stroke="#000" stroke-width="0.8" stroke-dasharray="8,5" shape-rendering="crispEdges"/><g shape-rendering="crispEdges"><rect x="4" y="2" width="7" height="7" fill="#22c000"/><rect x="4" y="2" width="7" height="1" fill="#33ff11"/><rect x="4" y="2" width="1" height="7" fill="#33ff11"/><rect x="5" y="8" width="6" height="1" fill="#006a00"/><rect x="10" y="3" width="1" height="6" fill="#006a00"/></g><text x="14.6" y="8.7" style="font-family:'Liberation Sans',sans-serif;font-size:9px;letter-spacing:0.7px" fill="#3072ff">GBP/USD(1 hr.<tspan dx="5.5">20 day)</tspan></text><g shape-rendering="crispEdges"><rect x="135" y="2" width="7" height="7" fill="#ff0000"/><rect x="135" y="2" width="7" height="1" fill="#ff2020"/><rect x="135" y="2" width="1" height="7" fill="#ff2020"/><rect x="136" y="8" width="6" height="1" fill="#a00000"/><rect x="141" y="3" width="1" height="6" fill="#a00000"/></g><text x="145.4" y="8.7" style="font-family:'Liberation Sans',sans-serif;font-size:9px;letter-spacing:0.8px" fill="#3072ff">SMA(5)</text><g shape-rendering="crispEdges"><rect x="190" y="2" width="7" height="7" fill="#22c000"/><rect x="190" y="2" width="7" height="1" fill="#33ff11"/><rect x="190" y="2" width="1" height="7" fill="#33ff11"/><rect x="191" y="8" width="6" height="1" fill="#006a00"/><rect x="196" y="3" width="1" height="6" fill="#006a00"/></g><text x="200.5" y="8.7" style="font-family:'Liberation Sans',sans-serif;font-size:9px;letter-spacing:0.8px" fill="#3072ff">SMA(10)</text><g shape-rendering="crispEdges"><rect x="251" y="2" width="7" height="7" fill="#3377ff"/><rect x="251" y="2" width="7" height="1" fill="#44bbff"/><rect x="251" y="2" width="1" height="7" fill="#44bbff"/><rect x="252" y="8" width="6" height="1" fill="#0a3fb0"/><rect x="257" y="3" width="1" height="6" fill="#0a3fb0"/></g><text x="261.5" y="8.7" style="font-family:'Liberation Sans',sans-serif;font-size:9px;letter-spacing:0.8px" fill="#3072ff">SMA(20)</text><text x="1060" y="10" style="font-family:'Liberation Sans',sans-serif;font-size:9.8px;letter-spacing:0.4px" fill="#000">1.6600</text><text x="1060" y="52" style="font-family:'Liberation Sans',sans-serif;font-size:9.8px;letter-spacing:0.4px" fill="#000">1.6500</text><text x="1060" y="95" style="font-family:'Liberation Sans',sans-serif;font-size:9.8px;letter-spacing:0.4px" fill="#000">1.6400</text><text x="1060" y="137" style="font-family:'Liberation Sans',sans-serif;font-size:9.8px;letter-spacing:0.4px" fill="#000">1.6300</text><text x="1060" y="179" style="font-family:'Liberation Sans',sans-serif;font-size:9.8px;letter-spacing:0.4px" fill="#000">1.6200</text><text x="1060" y="222" style="font-family:'Liberation Sans',sans-serif;font-size:9.8px;letter-spacing:0.4px" fill="#000">1.6100</text><text x="1060" y="264" style="font-family:'Liberation Sans',sans-serif;font-size:9.8px;letter-spacing:0.4px" fill="#000">1.6000</text><text x="1060" y="306" style="font-family:'Liberation Sans',sans-serif;font-size:9.8px;letter-spacing:0.4px" fill="#000">1.5900</text><text x="1060" y="348" style="font-family:'Liberation Sans',sans-serif;font-size:9.8px;letter-spacing:0.4px" fill="#000">1.5800</text><text x="1060" y="391" style="font-family:'Liberation Sans',sans-serif;font-size:9.8px;letter-spacing:0.4px" fill="#000">1.5700</text><text x="1060" y="433" style="font-family:'Liberation Sans',sans-serif;font-size:9.8px;letter-spacing:0.4px" fill="#000">1.5600</text><text x="1060" y="475" style="font-family:'Liberation Sans',sans-serif;font-size:9.8px;letter-spacing:0.4px" fill="#000">1.5500</text><text x="1060" y="518" style="font-family:'Liberation Sans',sans-serif;font-size:9.8px;letter-spacing:0.4px" fill="#000">1.5400</text><text x="1060" y="560" style="font-family:'Liberation Sans',sans-serif;font-size:9.8px;letter-spacing:0.4px" fill="#000">1.5300</text><rect x="1050" y="72" width="62" height="12" fill="#007a5c" shape-rendering="crispEdges"/><rect x="1047" y="78" width="3" height="1" fill="#007a5c" shape-rendering="crispEdges"/><text x="1060" y="82" style="font-family:'Liberation Sans',sans-serif;font-size:9.8px;letter-spacing:0.4px" fill="#fff">1.6430</text><text x="29.5" y="588" text-anchor="middle" style="font-family:'Liberation Sans',sans-serif;font-size:9.8px;letter-spacing:0.4px" fill="#000">04:00</text><text x="73.5" y="588" text-anchor="middle" style="font-family:'Liberation Sans',sans-serif;font-size:9.8px;letter-spacing:0.4px" fill="#000">14:00</text><text x="116.5" y="588" text-anchor="middle" style="font-family:'Liberation Sans',sans-serif;font-size:9.8px;letter-spacing:0.4px" fill="#000">00:00</text><text x="159.5" y="588" text-anchor="middle" style="font-family:'Liberation Sans',sans-serif;font-size:9.8px;letter-spacing:0.4px" fill="#000">10:00</text><text x="202.5" y="588" text-anchor="middle" style="font-family:'Liberation Sans',sans-serif;font-size:9.8px;letter-spacing:0.4px" fill="#000">20:00</text><text x="246.5" y="588" text-anchor="middle" style="font-family:'Liberation Sans',sans-serif;font-size:9.8px;letter-spacing:0.4px" fill="#000">06:00</text><text x="289.5" y="588" text-anchor="middle" style="font-family:'Liberation Sans',sans-serif;font-size:9.8px;letter-spacing:0.4px" fill="#000">16:00</text><text x="332.5" y="588" text-anchor="middle" style="font-family:'Liberation Sans',sans-serif;font-size:9.8px;letter-spacing:0.4px" fill="#000">02:00</text><text x="375.5" y="588" text-anchor="middle" style="font-family:'Liberation Sans',sans-serif;font-size:9.8px;letter-spacing:0.4px" fill="#000">12:00</text><text x="419.5" y="588" text-anchor="middle" style="font-family:'Liberation Sans',sans-serif;font-size:9.8px;letter-spacing:0.4px" fill="#000">23:00</text><text x="462.5" y="588" text-anchor="middle" style="font-family:'Liberation Sans',sans-serif;font-size:9.8px;letter-spacing:0.4px" fill="#000">09:00</text><text x="505.5" y="588" text-anchor="middle" style="font-family:'Liberation Sans',sans-serif;font-size:9.8px;letter-spacing:0.4px" fill="#000">19:00</text><text x="548.5" y="588" text-anchor="middle" style="font-family:'Liberation Sans',sans-serif;font-size:9.8px;letter-spacing:0.4px" fill="#000">05:00</text><text x="592.5" y="588" text-anchor="middle" style="font-family:'Liberation Sans',sans-serif;font-size:9.8px;letter-spacing:0.4px" fill="#000">15:00</text><text x="635.5" y="588" text-anchor="middle" style="font-family:'Liberation Sans',sans-serif;font-size:9.8px;letter-spacing:0.4px" fill="#000">01:00</text><text x="678.5" y="588" text-anchor="middle" style="font-family:'Liberation Sans',sans-serif;font-size:9.8px;letter-spacing:0.4px" fill="#000">11:00</text><text x="721.5" y="588" text-anchor="middle" style="font-family:'Liberation Sans',sans-serif;font-size:9.8px;letter-spacing:0.4px" fill="#000">21:00</text><text x="765.5" y="588" text-anchor="middle" style="font-family:'Liberation Sans',sans-serif;font-size:9.8px;letter-spacing:0.4px" fill="#000">07:00</text><text x="808.5" y="588" text-anchor="middle" style="font-family:'Liberation Sans',sans-serif;font-size:9.8px;letter-spacing:0.4px" fill="#000">17:00</text><text x="851.5" y="588" text-anchor="middle" style="font-family:'Liberation Sans',sans-serif;font-size:9.8px;letter-spacing:0.4px" fill="#000">03:00</text><text x="894.5" y="588" text-anchor="middle" style="font-family:'Liberation Sans',sans-serif;font-size:9.8px;letter-spacing:0.4px" fill="#000">13:00</text><text x="938.5" y="588" text-anchor="middle" style="font-family:'Liberation Sans',sans-serif;font-size:9.8px;letter-spacing:0.4px" fill="#000">23:00</text><text x="981.5" y="588" text-anchor="middle" style="font-family:'Liberation Sans',sans-serif;font-size:9.8px;letter-spacing:0.4px" fill="#000">09:00</text><text x="1024.5" y="588" text-anchor="middle" style="font-family:'Liberation Sans',sans-serif;font-size:9.8px;letter-spacing:0.4px" fill="#000">19:00</text><text x="116.5" y="603" text-anchor="middle" style="font-family:'Liberation Sans',sans-serif;font-size:9.8px;letter-spacing:0.4px" fill="#000">05/20</text><text x="220.5" y="603" text-anchor="middle" style="font-family:'Liberation Sans',sans-serif;font-size:9.8px;letter-spacing:0.4px" fill="#000">05/21</text><text x="323.5" y="603" text-anchor="middle" style="font-family:'Liberation Sans',sans-serif;font-size:9.8px;letter-spacing:0.4px" fill="#000">05/22</text><text x="423.5" y="603" text-anchor="middle" style="font-family:'Liberation Sans',sans-serif;font-size:9.8px;letter-spacing:0.4px" fill="#000">05/25</text><text x="527.5" y="603" text-anchor="middle" style="font-family:'Liberation Sans',sans-serif;font-size:9.8px;letter-spacing:0.4px" fill="#000">05/26</text><text x="630.5" y="603" text-anchor="middle" style="font-family:'Liberation Sans',sans-serif;font-size:9.8px;letter-spacing:0.4px" fill="#000">05/27</text><text x="734.5" y="603" text-anchor="middle" style="font-family:'Liberation Sans',sans-serif;font-size:9.8px;letter-spacing:0.4px" fill="#000">05/28</text><text x="838.5" y="603" text-anchor="middle" style="font-family:'Liberation Sans',sans-serif;font-size:9.8px;letter-spacing:0.4px" fill="#000">05/29</text><text x="942.5" y="603" text-anchor="middle" style="font-family:'Liberation Sans',sans-serif;font-size:9.8px;letter-spacing:0.4px" fill="#000">06/01</text></svg></body></html>
